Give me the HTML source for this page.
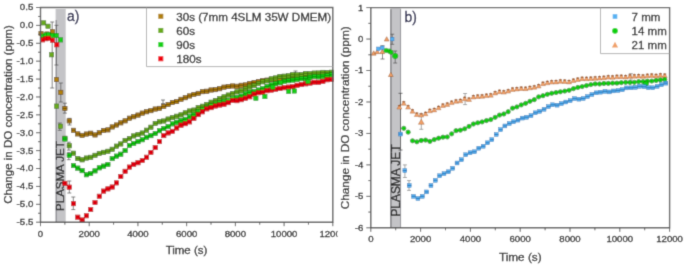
<!DOCTYPE html>
<html><head><meta charset="utf-8"><style>
html,body{margin:0;padding:0;background:#fff;}
body{width:685px;height:265px;overflow:hidden;}
svg{display:block;}
</style></head><body>
<svg width="685" height="265" viewBox="0 0 685 265">
<defs><filter id="bl" x="0" y="0" width="1" height="1"><feConvolveMatrix order="3" kernelMatrix="0.019 0.1 0.019 0.1 0.524 0.1 0.019 0.1 0.019" divisor="1" edgeMode="duplicate" preserveAlpha="true"/></filter></defs>
<g filter="url(#bl)">
<rect width="685" height="265" fill="#fff"/>
<g>
<rect x="55.6" y="9.0" width="10.1" height="213.2" fill="#c4c4c7"/>
<path d="M56.2 20 V222.2" stroke="#85858a" stroke-width="1.1"/>
<text transform="translate(64.1,210.9) rotate(-90)" font-family="Liberation Sans, sans-serif" stroke="#222" stroke-width="0.3" font-size="11.5" fill="#222">PLASMA JET</text>
<path d="M52.20 22.00 V88.00 M50.20 22.00 H54.20 M50.20 88.00 H54.20" stroke="#555555" stroke-width="0.75" fill="none"/>
<path d="M56.40 25.30 V65.00 M54.40 25.30 H58.40 M54.40 65.00 H58.40" stroke="#555555" stroke-width="0.75" fill="none"/>
<path d="M60.80 83.00 V102.00 M58.80 83.00 H62.80 M58.80 102.00 H62.80" stroke="#555555" stroke-width="0.75" fill="none"/>
<path d="M64.90 103.20 V113.10 M62.90 103.20 H66.90 M62.90 113.10 H66.90" stroke="#555555" stroke-width="0.75" fill="none"/>
<path d="M69.50 118.30 V125.00 M67.50 118.30 H71.50 M67.50 125.00 H71.50" stroke="#555555" stroke-width="0.75" fill="none"/>
<path d="M73.30 197.00 V209.60 M71.30 197.00 H75.30 M71.30 209.60 H75.30" stroke="#555555" stroke-width="0.75" fill="none"/>
<path d="M69.30 181.00 V193.00 M67.30 181.00 H71.30 M67.30 193.00 H71.30" stroke="#555555" stroke-width="0.75" fill="none"/>
<path d="M59.80 123.00 V130.30 M57.80 123.00 H61.80 M57.80 130.30 H61.80" stroke="#555555" stroke-width="0.75" fill="none"/>
<path d="M163.00 100.00 V103.50 M161.00 100.00 H165.00 M161.00 103.50 H165.00" stroke="#555555" stroke-width="0.75" fill="none"/>
<path d="M295.50 71.00 V76.00 M293.50 71.00 H297.50 M293.50 76.00 H297.50" stroke="#555555" stroke-width="0.75" fill="none"/>
<path d="M68.80 142.20 V150.10 M66.80 142.20 H70.80 M66.80 150.10 H70.80" stroke="#555555" stroke-width="0.75" fill="none"/>
<path d="M68.80 152.40 V159.70 M66.80 152.40 H70.80 M66.80 159.70 H70.80" stroke="#555555" stroke-width="0.75" fill="none"/>
<rect x="38.85" y="31.35" width="4.3" height="4.3" fill="#b0800e" stroke="#5a3c04" stroke-width="0.5"/><rect x="44.85" y="31.85" width="4.3" height="4.3" fill="#b0800e" stroke="#5a3c04" stroke-width="0.5"/><rect x="50.25" y="29.45" width="4.3" height="4.3" fill="#b0800e" stroke="#5a3c04" stroke-width="0.5"/><rect x="54.35" y="77.45" width="4.3" height="4.3" fill="#b0800e" stroke="#5a3c04" stroke-width="0.5"/><rect x="58.65" y="90.15" width="4.3" height="4.3" fill="#b0800e" stroke="#5a3c04" stroke-width="0.5"/><rect x="62.75" y="106.29" width="4.3" height="4.3" fill="#b0800e" stroke="#5a3c04" stroke-width="0.6"/><path d="M62.60 108.44 H67.20" stroke="#5a3c04" stroke-width="0.7"/><rect x="67.05" y="118.75" width="4.3" height="4.3" fill="#b0800e" stroke="#5a3c04" stroke-width="0.6"/><path d="M66.90 120.90 H71.50" stroke="#5a3c04" stroke-width="0.7"/><rect x="71.35" y="128.15" width="4.3" height="4.3" fill="#b0800e" stroke="#5a3c04" stroke-width="0.6"/><path d="M71.20 130.30 H75.80" stroke="#5a3c04" stroke-width="0.7"/><rect x="75.65" y="131.76" width="4.3" height="4.3" fill="#b0800e" stroke="#5a3c04" stroke-width="0.6"/><path d="M75.50 133.91 H80.10" stroke="#5a3c04" stroke-width="0.7"/><rect x="79.95" y="133.24" width="4.3" height="4.3" fill="#b0800e" stroke="#5a3c04" stroke-width="0.6"/><path d="M79.80 135.39 H84.40" stroke="#5a3c04" stroke-width="0.7"/><rect x="84.25" y="131.90" width="4.3" height="4.3" fill="#b0800e" stroke="#5a3c04" stroke-width="0.6"/><path d="M84.10 134.05 H88.70" stroke="#5a3c04" stroke-width="0.7"/><rect x="88.55" y="131.06" width="4.3" height="4.3" fill="#b0800e" stroke="#5a3c04" stroke-width="0.6"/><path d="M88.40 133.21 H93.00" stroke="#5a3c04" stroke-width="0.7"/><rect x="92.85" y="132.79" width="4.3" height="4.3" fill="#b0800e" stroke="#5a3c04" stroke-width="0.6"/><path d="M92.70 134.94 H97.30" stroke="#5a3c04" stroke-width="0.7"/><rect x="97.15" y="130.60" width="4.3" height="4.3" fill="#b0800e" stroke="#5a3c04" stroke-width="0.6"/><path d="M97.00 132.75 H101.60" stroke="#5a3c04" stroke-width="0.7"/><rect x="101.45" y="128.29" width="4.3" height="4.3" fill="#b0800e" stroke="#5a3c04" stroke-width="0.6"/><path d="M101.30 130.44 H105.90" stroke="#5a3c04" stroke-width="0.7"/><rect x="105.75" y="127.73" width="4.3" height="4.3" fill="#b0800e" stroke="#5a3c04" stroke-width="0.6"/><path d="M105.60 129.88 H110.20" stroke="#5a3c04" stroke-width="0.7"/><rect x="110.05" y="124.81" width="4.3" height="4.3" fill="#b0800e" stroke="#5a3c04" stroke-width="0.6"/><path d="M109.90 126.96 H114.50" stroke="#5a3c04" stroke-width="0.7"/><rect x="114.35" y="122.86" width="4.3" height="4.3" fill="#b0800e" stroke="#5a3c04" stroke-width="0.6"/><path d="M114.20 125.01 H118.80" stroke="#5a3c04" stroke-width="0.7"/><rect x="118.65" y="120.72" width="4.3" height="4.3" fill="#b0800e" stroke="#5a3c04" stroke-width="0.6"/><path d="M118.50 122.87 H123.10" stroke="#5a3c04" stroke-width="0.7"/><rect x="122.95" y="118.71" width="4.3" height="4.3" fill="#b0800e" stroke="#5a3c04" stroke-width="0.6"/><path d="M122.80 120.86 H127.40" stroke="#5a3c04" stroke-width="0.7"/><rect x="127.25" y="116.03" width="4.3" height="4.3" fill="#b0800e" stroke="#5a3c04" stroke-width="0.6"/><path d="M127.10 118.18 H131.70" stroke="#5a3c04" stroke-width="0.7"/><rect x="131.55" y="114.59" width="4.3" height="4.3" fill="#b0800e" stroke="#5a3c04" stroke-width="0.6"/><path d="M131.40 116.74 H136.00" stroke="#5a3c04" stroke-width="0.7"/><rect x="135.85" y="112.93" width="4.3" height="4.3" fill="#b0800e" stroke="#5a3c04" stroke-width="0.6"/><path d="M135.70 115.08 H140.30" stroke="#5a3c04" stroke-width="0.7"/><rect x="140.15" y="110.97" width="4.3" height="4.3" fill="#b0800e" stroke="#5a3c04" stroke-width="0.6"/><path d="M140.00 113.12 H144.60" stroke="#5a3c04" stroke-width="0.7"/><rect x="144.45" y="109.62" width="4.3" height="4.3" fill="#b0800e" stroke="#5a3c04" stroke-width="0.6"/><path d="M144.30 111.77 H148.90" stroke="#5a3c04" stroke-width="0.7"/><rect x="148.75" y="108.52" width="4.3" height="4.3" fill="#b0800e" stroke="#5a3c04" stroke-width="0.6"/><path d="M148.60 110.67 H153.20" stroke="#5a3c04" stroke-width="0.7"/><rect x="153.05" y="106.89" width="4.3" height="4.3" fill="#b0800e" stroke="#5a3c04" stroke-width="0.6"/><path d="M152.90 109.04 H157.50" stroke="#5a3c04" stroke-width="0.7"/><rect x="157.35" y="106.21" width="4.3" height="4.3" fill="#b0800e" stroke="#5a3c04" stroke-width="0.6"/><path d="M157.20 108.36 H161.80" stroke="#5a3c04" stroke-width="0.7"/><rect x="161.65" y="104.36" width="4.3" height="4.3" fill="#b0800e" stroke="#5a3c04" stroke-width="0.6"/><path d="M161.50 106.51 H166.10" stroke="#5a3c04" stroke-width="0.7"/><rect x="165.95" y="102.39" width="4.3" height="4.3" fill="#b0800e" stroke="#5a3c04" stroke-width="0.6"/><path d="M165.80 104.54 H170.40" stroke="#5a3c04" stroke-width="0.7"/><rect x="170.25" y="100.37" width="4.3" height="4.3" fill="#b0800e" stroke="#5a3c04" stroke-width="0.6"/><path d="M170.10 102.52 H174.70" stroke="#5a3c04" stroke-width="0.7"/><rect x="174.55" y="99.38" width="4.3" height="4.3" fill="#b0800e" stroke="#5a3c04" stroke-width="0.6"/><path d="M174.40 101.53 H179.00" stroke="#5a3c04" stroke-width="0.7"/><rect x="178.85" y="97.17" width="4.3" height="4.3" fill="#b0800e" stroke="#5a3c04" stroke-width="0.6"/><path d="M178.70 99.32 H183.30" stroke="#5a3c04" stroke-width="0.7"/><rect x="183.15" y="95.55" width="4.3" height="4.3" fill="#b0800e" stroke="#5a3c04" stroke-width="0.6"/><path d="M183.00 97.70 H187.60" stroke="#5a3c04" stroke-width="0.7"/><rect x="187.45" y="93.81" width="4.3" height="4.3" fill="#b0800e" stroke="#5a3c04" stroke-width="0.6"/><path d="M187.30 95.96 H191.90" stroke="#5a3c04" stroke-width="0.7"/><rect x="191.75" y="92.29" width="4.3" height="4.3" fill="#b0800e" stroke="#5a3c04" stroke-width="0.6"/><path d="M191.60 94.44 H196.20" stroke="#5a3c04" stroke-width="0.7"/><rect x="196.05" y="91.21" width="4.3" height="4.3" fill="#b0800e" stroke="#5a3c04" stroke-width="0.6"/><path d="M195.90 93.36 H200.50" stroke="#5a3c04" stroke-width="0.7"/><rect x="200.35" y="89.54" width="4.3" height="4.3" fill="#b0800e" stroke="#5a3c04" stroke-width="0.6"/><path d="M200.20 91.69 H204.80" stroke="#5a3c04" stroke-width="0.7"/><rect x="204.65" y="89.08" width="4.3" height="4.3" fill="#b0800e" stroke="#5a3c04" stroke-width="0.6"/><path d="M204.50 91.23 H209.10" stroke="#5a3c04" stroke-width="0.7"/><rect x="208.95" y="87.86" width="4.3" height="4.3" fill="#b0800e" stroke="#5a3c04" stroke-width="0.6"/><path d="M208.80 90.01 H213.40" stroke="#5a3c04" stroke-width="0.7"/><rect x="213.25" y="87.49" width="4.3" height="4.3" fill="#b0800e" stroke="#5a3c04" stroke-width="0.6"/><path d="M213.10 89.64 H217.70" stroke="#5a3c04" stroke-width="0.7"/><rect x="217.55" y="86.57" width="4.3" height="4.3" fill="#b0800e" stroke="#5a3c04" stroke-width="0.6"/><path d="M217.40 88.72 H222.00" stroke="#5a3c04" stroke-width="0.7"/><rect x="221.85" y="84.99" width="4.3" height="4.3" fill="#b0800e" stroke="#5a3c04" stroke-width="0.6"/><path d="M221.70 87.14 H226.30" stroke="#5a3c04" stroke-width="0.7"/><rect x="226.15" y="84.39" width="4.3" height="4.3" fill="#b0800e" stroke="#5a3c04" stroke-width="0.6"/><path d="M226.00 86.54 H230.60" stroke="#5a3c04" stroke-width="0.7"/><rect x="230.45" y="83.84" width="4.3" height="4.3" fill="#b0800e" stroke="#5a3c04" stroke-width="0.6"/><path d="M230.30 85.99 H234.90" stroke="#5a3c04" stroke-width="0.7"/><rect x="234.75" y="84.11" width="4.3" height="4.3" fill="#b0800e" stroke="#5a3c04" stroke-width="0.6"/><path d="M234.60 86.26 H239.20" stroke="#5a3c04" stroke-width="0.7"/><rect x="239.05" y="83.15" width="4.3" height="4.3" fill="#b0800e" stroke="#5a3c04" stroke-width="0.6"/><path d="M238.90 85.30 H243.50" stroke="#5a3c04" stroke-width="0.7"/><rect x="243.35" y="82.78" width="4.3" height="4.3" fill="#b0800e" stroke="#5a3c04" stroke-width="0.6"/><path d="M243.20 84.93 H247.80" stroke="#5a3c04" stroke-width="0.7"/><rect x="247.65" y="81.28" width="4.3" height="4.3" fill="#b0800e" stroke="#5a3c04" stroke-width="0.6"/><path d="M247.50 83.43 H252.10" stroke="#5a3c04" stroke-width="0.7"/><rect x="251.95" y="80.30" width="4.3" height="4.3" fill="#b0800e" stroke="#5a3c04" stroke-width="0.6"/><path d="M251.80 82.45 H256.40" stroke="#5a3c04" stroke-width="0.7"/><rect x="256.25" y="79.32" width="4.3" height="4.3" fill="#b0800e" stroke="#5a3c04" stroke-width="0.6"/><path d="M256.10 81.47 H260.70" stroke="#5a3c04" stroke-width="0.7"/><rect x="260.55" y="78.51" width="4.3" height="4.3" fill="#b0800e" stroke="#5a3c04" stroke-width="0.6"/><path d="M260.40 80.66 H265.00" stroke="#5a3c04" stroke-width="0.7"/><rect x="264.85" y="77.98" width="4.3" height="4.3" fill="#b0800e" stroke="#5a3c04" stroke-width="0.6"/><path d="M264.70 80.13 H269.30" stroke="#5a3c04" stroke-width="0.7"/><rect x="269.15" y="77.26" width="4.3" height="4.3" fill="#b0800e" stroke="#5a3c04" stroke-width="0.6"/><path d="M269.00 79.41 H273.60" stroke="#5a3c04" stroke-width="0.7"/><rect x="273.45" y="77.02" width="4.3" height="4.3" fill="#b0800e" stroke="#5a3c04" stroke-width="0.6"/><path d="M273.30 79.17 H277.90" stroke="#5a3c04" stroke-width="0.7"/><rect x="277.75" y="76.24" width="4.3" height="4.3" fill="#b0800e" stroke="#5a3c04" stroke-width="0.6"/><path d="M277.60 78.39 H282.20" stroke="#5a3c04" stroke-width="0.7"/><rect x="282.05" y="75.99" width="4.3" height="4.3" fill="#b0800e" stroke="#5a3c04" stroke-width="0.6"/><path d="M281.90 78.14 H286.50" stroke="#5a3c04" stroke-width="0.7"/><rect x="286.35" y="75.45" width="4.3" height="4.3" fill="#b0800e" stroke="#5a3c04" stroke-width="0.6"/><path d="M286.20 77.60 H290.80" stroke="#5a3c04" stroke-width="0.7"/><rect x="290.65" y="75.12" width="4.3" height="4.3" fill="#b0800e" stroke="#5a3c04" stroke-width="0.6"/><path d="M290.50 77.27 H295.10" stroke="#5a3c04" stroke-width="0.7"/><rect x="294.95" y="74.33" width="4.3" height="4.3" fill="#b0800e" stroke="#5a3c04" stroke-width="0.6"/><path d="M294.80 76.48 H299.40" stroke="#5a3c04" stroke-width="0.7"/><rect x="299.25" y="73.40" width="4.3" height="4.3" fill="#b0800e" stroke="#5a3c04" stroke-width="0.6"/><path d="M299.10 75.55 H303.70" stroke="#5a3c04" stroke-width="0.7"/><rect x="303.55" y="73.75" width="4.3" height="4.3" fill="#b0800e" stroke="#5a3c04" stroke-width="0.6"/><path d="M303.40 75.90 H308.00" stroke="#5a3c04" stroke-width="0.7"/><rect x="307.85" y="73.51" width="4.3" height="4.3" fill="#b0800e" stroke="#5a3c04" stroke-width="0.6"/><path d="M307.70 75.66 H312.30" stroke="#5a3c04" stroke-width="0.7"/><rect x="312.15" y="73.10" width="4.3" height="4.3" fill="#b0800e" stroke="#5a3c04" stroke-width="0.6"/><path d="M312.00 75.25 H316.60" stroke="#5a3c04" stroke-width="0.7"/><rect x="316.45" y="72.42" width="4.3" height="4.3" fill="#b0800e" stroke="#5a3c04" stroke-width="0.6"/><path d="M316.30 74.57 H320.90" stroke="#5a3c04" stroke-width="0.7"/><rect x="320.75" y="72.22" width="4.3" height="4.3" fill="#b0800e" stroke="#5a3c04" stroke-width="0.6"/><path d="M320.60 74.37 H325.20" stroke="#5a3c04" stroke-width="0.7"/><rect x="325.05" y="71.37" width="4.3" height="4.3" fill="#b0800e" stroke="#5a3c04" stroke-width="0.6"/><path d="M324.90 73.52 H329.50" stroke="#5a3c04" stroke-width="0.7"/><rect x="329.35" y="71.68" width="4.3" height="4.3" fill="#b0800e" stroke="#5a3c04" stroke-width="0.6"/><path d="M329.20 73.83 H333.80" stroke="#5a3c04" stroke-width="0.7"/>
<rect x="41.55" y="20.75" width="4.3" height="4.3" fill="#6aaa1e" stroke="#3a6a10" stroke-width="0.5"/><rect x="45.85" y="24.05" width="4.3" height="4.3" fill="#6aaa1e" stroke="#3a6a10" stroke-width="0.5"/><rect x="49.45" y="52.65" width="4.3" height="4.3" fill="#6aaa1e" stroke="#3a6a10" stroke-width="0.5"/><rect x="54.45" y="103.95" width="4.3" height="4.3" fill="#6aaa1e" stroke="#3a6a10" stroke-width="0.5"/><rect x="58.25" y="124.05" width="4.3" height="4.3" fill="#6aaa1e" stroke="#3a6a10" stroke-width="0.5"/><rect x="62.75" y="136.12" width="4.3" height="4.3" fill="#6aaa1e" stroke="#3a6a10" stroke-width="0.6"/><path d="M62.60 138.27 H67.20" stroke="#3a6a10" stroke-width="0.7"/><rect x="67.05" y="143.63" width="4.3" height="4.3" fill="#6aaa1e" stroke="#3a6a10" stroke-width="0.6"/><path d="M66.90 145.78 H71.50" stroke="#3a6a10" stroke-width="0.7"/><rect x="71.35" y="151.06" width="4.3" height="4.3" fill="#6aaa1e" stroke="#3a6a10" stroke-width="0.6"/><path d="M71.20 153.21 H75.80" stroke="#3a6a10" stroke-width="0.7"/><rect x="75.65" y="156.39" width="4.3" height="4.3" fill="#6aaa1e" stroke="#3a6a10" stroke-width="0.6"/><path d="M75.50 158.54 H80.10" stroke="#3a6a10" stroke-width="0.7"/><rect x="79.95" y="157.70" width="4.3" height="4.3" fill="#6aaa1e" stroke="#3a6a10" stroke-width="0.6"/><path d="M79.80 159.85 H84.40" stroke="#3a6a10" stroke-width="0.7"/><rect x="84.25" y="155.90" width="4.3" height="4.3" fill="#6aaa1e" stroke="#3a6a10" stroke-width="0.6"/><path d="M84.10 158.05 H88.70" stroke="#3a6a10" stroke-width="0.7"/><rect x="88.55" y="155.15" width="4.3" height="4.3" fill="#6aaa1e" stroke="#3a6a10" stroke-width="0.6"/><path d="M88.40 157.30 H93.00" stroke="#3a6a10" stroke-width="0.7"/><rect x="92.85" y="153.16" width="4.3" height="4.3" fill="#6aaa1e" stroke="#3a6a10" stroke-width="0.6"/><path d="M92.70 155.31 H97.30" stroke="#3a6a10" stroke-width="0.7"/><rect x="97.15" y="151.25" width="4.3" height="4.3" fill="#6aaa1e" stroke="#3a6a10" stroke-width="0.6"/><path d="M97.00 153.40 H101.60" stroke="#3a6a10" stroke-width="0.7"/><rect x="101.45" y="150.20" width="4.3" height="4.3" fill="#6aaa1e" stroke="#3a6a10" stroke-width="0.6"/><path d="M101.30 152.35 H105.90" stroke="#3a6a10" stroke-width="0.7"/><rect x="105.75" y="149.13" width="4.3" height="4.3" fill="#6aaa1e" stroke="#3a6a10" stroke-width="0.6"/><path d="M105.60 151.28 H110.20" stroke="#3a6a10" stroke-width="0.7"/><rect x="110.05" y="147.09" width="4.3" height="4.3" fill="#6aaa1e" stroke="#3a6a10" stroke-width="0.6"/><path d="M109.90 149.24 H114.50" stroke="#3a6a10" stroke-width="0.7"/><rect x="114.35" y="143.98" width="4.3" height="4.3" fill="#6aaa1e" stroke="#3a6a10" stroke-width="0.6"/><path d="M114.20 146.13 H118.80" stroke="#3a6a10" stroke-width="0.7"/><rect x="118.65" y="141.82" width="4.3" height="4.3" fill="#6aaa1e" stroke="#3a6a10" stroke-width="0.6"/><path d="M118.50 143.97 H123.10" stroke="#3a6a10" stroke-width="0.7"/><rect x="122.95" y="138.27" width="4.3" height="4.3" fill="#6aaa1e" stroke="#3a6a10" stroke-width="0.6"/><path d="M122.80 140.42 H127.40" stroke="#3a6a10" stroke-width="0.7"/><rect x="127.25" y="136.37" width="4.3" height="4.3" fill="#6aaa1e" stroke="#3a6a10" stroke-width="0.6"/><path d="M127.10 138.52 H131.70" stroke="#3a6a10" stroke-width="0.7"/><rect x="131.55" y="133.80" width="4.3" height="4.3" fill="#6aaa1e" stroke="#3a6a10" stroke-width="0.6"/><path d="M131.40 135.95 H136.00" stroke="#3a6a10" stroke-width="0.7"/><rect x="135.85" y="132.43" width="4.3" height="4.3" fill="#6aaa1e" stroke="#3a6a10" stroke-width="0.6"/><path d="M135.70 134.58 H140.30" stroke="#3a6a10" stroke-width="0.7"/><rect x="140.15" y="130.87" width="4.3" height="4.3" fill="#6aaa1e" stroke="#3a6a10" stroke-width="0.6"/><path d="M140.00 133.02 H144.60" stroke="#3a6a10" stroke-width="0.7"/><rect x="144.45" y="128.04" width="4.3" height="4.3" fill="#6aaa1e" stroke="#3a6a10" stroke-width="0.6"/><path d="M144.30 130.19 H148.90" stroke="#3a6a10" stroke-width="0.7"/><rect x="148.75" y="125.06" width="4.3" height="4.3" fill="#6aaa1e" stroke="#3a6a10" stroke-width="0.6"/><path d="M148.60 127.21 H153.20" stroke="#3a6a10" stroke-width="0.7"/><rect x="153.05" y="121.27" width="4.3" height="4.3" fill="#6aaa1e" stroke="#3a6a10" stroke-width="0.6"/><path d="M152.90 123.42 H157.50" stroke="#3a6a10" stroke-width="0.7"/><rect x="157.35" y="119.66" width="4.3" height="4.3" fill="#6aaa1e" stroke="#3a6a10" stroke-width="0.6"/><path d="M157.20 121.81 H161.80" stroke="#3a6a10" stroke-width="0.7"/><rect x="161.65" y="118.86" width="4.3" height="4.3" fill="#6aaa1e" stroke="#3a6a10" stroke-width="0.6"/><path d="M161.50 121.01 H166.10" stroke="#3a6a10" stroke-width="0.7"/><rect x="165.95" y="116.91" width="4.3" height="4.3" fill="#6aaa1e" stroke="#3a6a10" stroke-width="0.6"/><path d="M165.80 119.06 H170.40" stroke="#3a6a10" stroke-width="0.7"/><rect x="170.25" y="115.46" width="4.3" height="4.3" fill="#6aaa1e" stroke="#3a6a10" stroke-width="0.6"/><path d="M170.10 117.61 H174.70" stroke="#3a6a10" stroke-width="0.7"/><rect x="174.55" y="114.07" width="4.3" height="4.3" fill="#6aaa1e" stroke="#3a6a10" stroke-width="0.6"/><path d="M174.40 116.22 H179.00" stroke="#3a6a10" stroke-width="0.7"/><rect x="178.85" y="112.74" width="4.3" height="4.3" fill="#6aaa1e" stroke="#3a6a10" stroke-width="0.6"/><path d="M178.70 114.89 H183.30" stroke="#3a6a10" stroke-width="0.7"/><rect x="183.15" y="110.72" width="4.3" height="4.3" fill="#6aaa1e" stroke="#3a6a10" stroke-width="0.6"/><path d="M183.00 112.87 H187.60" stroke="#3a6a10" stroke-width="0.7"/><rect x="187.45" y="108.85" width="4.3" height="4.3" fill="#6aaa1e" stroke="#3a6a10" stroke-width="0.6"/><path d="M187.30 111.00 H191.90" stroke="#3a6a10" stroke-width="0.7"/><rect x="191.75" y="107.92" width="4.3" height="4.3" fill="#6aaa1e" stroke="#3a6a10" stroke-width="0.6"/><path d="M191.60 110.07 H196.20" stroke="#3a6a10" stroke-width="0.7"/><rect x="196.05" y="105.42" width="4.3" height="4.3" fill="#6aaa1e" stroke="#3a6a10" stroke-width="0.6"/><path d="M195.90 107.57 H200.50" stroke="#3a6a10" stroke-width="0.7"/><rect x="200.35" y="104.08" width="4.3" height="4.3" fill="#6aaa1e" stroke="#3a6a10" stroke-width="0.6"/><path d="M200.20 106.23 H204.80" stroke="#3a6a10" stroke-width="0.7"/><rect x="204.65" y="102.28" width="4.3" height="4.3" fill="#6aaa1e" stroke="#3a6a10" stroke-width="0.6"/><path d="M204.50 104.43 H209.10" stroke="#3a6a10" stroke-width="0.7"/><rect x="208.95" y="100.05" width="4.3" height="4.3" fill="#6aaa1e" stroke="#3a6a10" stroke-width="0.6"/><path d="M208.80 102.20 H213.40" stroke="#3a6a10" stroke-width="0.7"/><rect x="213.25" y="98.28" width="4.3" height="4.3" fill="#6aaa1e" stroke="#3a6a10" stroke-width="0.6"/><path d="M213.10 100.43 H217.70" stroke="#3a6a10" stroke-width="0.7"/><rect x="217.55" y="96.47" width="4.3" height="4.3" fill="#6aaa1e" stroke="#3a6a10" stroke-width="0.6"/><path d="M217.40 98.62 H222.00" stroke="#3a6a10" stroke-width="0.7"/><rect x="221.85" y="94.72" width="4.3" height="4.3" fill="#6aaa1e" stroke="#3a6a10" stroke-width="0.6"/><path d="M221.70 96.87 H226.30" stroke="#3a6a10" stroke-width="0.7"/><rect x="226.15" y="92.90" width="4.3" height="4.3" fill="#6aaa1e" stroke="#3a6a10" stroke-width="0.6"/><path d="M226.00 95.05 H230.60" stroke="#3a6a10" stroke-width="0.7"/><rect x="230.45" y="91.28" width="4.3" height="4.3" fill="#6aaa1e" stroke="#3a6a10" stroke-width="0.6"/><path d="M230.30 93.43 H234.90" stroke="#3a6a10" stroke-width="0.7"/><rect x="234.75" y="89.76" width="4.3" height="4.3" fill="#6aaa1e" stroke="#3a6a10" stroke-width="0.6"/><path d="M234.60 91.91 H239.20" stroke="#3a6a10" stroke-width="0.7"/><rect x="239.05" y="88.55" width="4.3" height="4.3" fill="#6aaa1e" stroke="#3a6a10" stroke-width="0.6"/><path d="M238.90 90.70 H243.50" stroke="#3a6a10" stroke-width="0.7"/><rect x="243.35" y="86.59" width="4.3" height="4.3" fill="#6aaa1e" stroke="#3a6a10" stroke-width="0.6"/><path d="M243.20 88.74 H247.80" stroke="#3a6a10" stroke-width="0.7"/><rect x="247.65" y="84.94" width="4.3" height="4.3" fill="#6aaa1e" stroke="#3a6a10" stroke-width="0.6"/><path d="M247.50 87.09 H252.10" stroke="#3a6a10" stroke-width="0.7"/><rect x="251.95" y="83.49" width="4.3" height="4.3" fill="#6aaa1e" stroke="#3a6a10" stroke-width="0.6"/><path d="M251.80 85.64 H256.40" stroke="#3a6a10" stroke-width="0.7"/><rect x="256.25" y="81.27" width="4.3" height="4.3" fill="#6aaa1e" stroke="#3a6a10" stroke-width="0.6"/><path d="M256.10 83.42 H260.70" stroke="#3a6a10" stroke-width="0.7"/><rect x="260.55" y="79.67" width="4.3" height="4.3" fill="#6aaa1e" stroke="#3a6a10" stroke-width="0.6"/><path d="M260.40 81.82 H265.00" stroke="#3a6a10" stroke-width="0.7"/><rect x="264.85" y="78.70" width="4.3" height="4.3" fill="#6aaa1e" stroke="#3a6a10" stroke-width="0.6"/><path d="M264.70 80.85 H269.30" stroke="#3a6a10" stroke-width="0.7"/><rect x="269.15" y="76.72" width="4.3" height="4.3" fill="#6aaa1e" stroke="#3a6a10" stroke-width="0.6"/><path d="M269.00 78.87 H273.60" stroke="#3a6a10" stroke-width="0.7"/><rect x="273.45" y="75.80" width="4.3" height="4.3" fill="#6aaa1e" stroke="#3a6a10" stroke-width="0.6"/><path d="M273.30 77.95 H277.90" stroke="#3a6a10" stroke-width="0.7"/><rect x="277.75" y="74.31" width="4.3" height="4.3" fill="#6aaa1e" stroke="#3a6a10" stroke-width="0.6"/><path d="M277.60 76.46 H282.20" stroke="#3a6a10" stroke-width="0.7"/><rect x="282.05" y="74.02" width="4.3" height="4.3" fill="#6aaa1e" stroke="#3a6a10" stroke-width="0.6"/><path d="M281.90 76.17 H286.50" stroke="#3a6a10" stroke-width="0.7"/><rect x="286.35" y="73.64" width="4.3" height="4.3" fill="#6aaa1e" stroke="#3a6a10" stroke-width="0.6"/><path d="M286.20 75.79 H290.80" stroke="#3a6a10" stroke-width="0.7"/><rect x="290.65" y="72.54" width="4.3" height="4.3" fill="#6aaa1e" stroke="#3a6a10" stroke-width="0.6"/><path d="M290.50 74.69 H295.10" stroke="#3a6a10" stroke-width="0.7"/><rect x="294.95" y="72.72" width="4.3" height="4.3" fill="#6aaa1e" stroke="#3a6a10" stroke-width="0.6"/><path d="M294.80 74.87 H299.40" stroke="#3a6a10" stroke-width="0.7"/><rect x="299.25" y="72.33" width="4.3" height="4.3" fill="#6aaa1e" stroke="#3a6a10" stroke-width="0.6"/><path d="M299.10 74.48 H303.70" stroke="#3a6a10" stroke-width="0.7"/><rect x="303.55" y="71.34" width="4.3" height="4.3" fill="#6aaa1e" stroke="#3a6a10" stroke-width="0.6"/><path d="M303.40 73.49 H308.00" stroke="#3a6a10" stroke-width="0.7"/><rect x="307.85" y="71.50" width="4.3" height="4.3" fill="#6aaa1e" stroke="#3a6a10" stroke-width="0.6"/><path d="M307.70 73.65 H312.30" stroke="#3a6a10" stroke-width="0.7"/><rect x="312.15" y="70.93" width="4.3" height="4.3" fill="#6aaa1e" stroke="#3a6a10" stroke-width="0.6"/><path d="M312.00 73.08 H316.60" stroke="#3a6a10" stroke-width="0.7"/><rect x="316.45" y="70.85" width="4.3" height="4.3" fill="#6aaa1e" stroke="#3a6a10" stroke-width="0.6"/><path d="M316.30 73.00 H320.90" stroke="#3a6a10" stroke-width="0.7"/><rect x="320.75" y="70.24" width="4.3" height="4.3" fill="#6aaa1e" stroke="#3a6a10" stroke-width="0.6"/><path d="M320.60 72.39 H325.20" stroke="#3a6a10" stroke-width="0.7"/><rect x="325.05" y="70.31" width="4.3" height="4.3" fill="#6aaa1e" stroke="#3a6a10" stroke-width="0.6"/><path d="M324.90 72.46 H329.50" stroke="#3a6a10" stroke-width="0.7"/><rect x="329.35" y="70.09" width="4.3" height="4.3" fill="#6aaa1e" stroke="#3a6a10" stroke-width="0.6"/><path d="M329.20 72.24 H333.80" stroke="#3a6a10" stroke-width="0.7"/>
<rect x="40.45" y="34.05" width="4.3" height="4.3" fill="#12d012" stroke="#0a800a" stroke-width="0.5"/><rect x="43.85" y="32.85" width="4.3" height="4.3" fill="#12d012" stroke="#0a800a" stroke-width="0.5"/><rect x="46.35" y="32.25" width="4.3" height="4.3" fill="#12d012" stroke="#0a800a" stroke-width="0.5"/><rect x="50.25" y="33.15" width="4.3" height="4.3" fill="#12d012" stroke="#0a800a" stroke-width="0.5"/><rect x="54.05" y="33.35" width="4.3" height="4.3" fill="#12d012" stroke="#0a800a" stroke-width="0.5"/><rect x="58.45" y="37.75" width="4.3" height="4.3" fill="#12d012" stroke="#0a800a" stroke-width="0.5"/><rect x="62.75" y="136.85" width="4.3" height="4.3" fill="#12d012" stroke="#0a800a" stroke-width="0.6"/><path d="M62.60 139.00 H67.20" stroke="#0a800a" stroke-width="0.7"/><rect x="67.05" y="153.27" width="4.3" height="4.3" fill="#12d012" stroke="#0a800a" stroke-width="0.6"/><path d="M66.90 155.42 H71.50" stroke="#0a800a" stroke-width="0.7"/><rect x="71.35" y="163.43" width="4.3" height="4.3" fill="#12d012" stroke="#0a800a" stroke-width="0.6"/><path d="M71.20 165.58 H75.80" stroke="#0a800a" stroke-width="0.7"/><rect x="75.65" y="165.94" width="4.3" height="4.3" fill="#12d012" stroke="#0a800a" stroke-width="0.6"/><path d="M75.50 168.09 H80.10" stroke="#0a800a" stroke-width="0.7"/><rect x="79.95" y="168.53" width="4.3" height="4.3" fill="#12d012" stroke="#0a800a" stroke-width="0.6"/><path d="M79.80 170.68 H84.40" stroke="#0a800a" stroke-width="0.7"/><rect x="84.25" y="172.63" width="4.3" height="4.3" fill="#12d012" stroke="#0a800a" stroke-width="0.6"/><path d="M84.10 174.78 H88.70" stroke="#0a800a" stroke-width="0.7"/><rect x="88.55" y="171.39" width="4.3" height="4.3" fill="#12d012" stroke="#0a800a" stroke-width="0.6"/><path d="M88.40 173.54 H93.00" stroke="#0a800a" stroke-width="0.7"/><rect x="92.85" y="168.75" width="4.3" height="4.3" fill="#12d012" stroke="#0a800a" stroke-width="0.6"/><path d="M92.70 170.90 H97.30" stroke="#0a800a" stroke-width="0.7"/><rect x="97.15" y="165.71" width="4.3" height="4.3" fill="#12d012" stroke="#0a800a" stroke-width="0.6"/><path d="M97.00 167.86 H101.60" stroke="#0a800a" stroke-width="0.7"/><rect x="101.45" y="163.96" width="4.3" height="4.3" fill="#12d012" stroke="#0a800a" stroke-width="0.6"/><path d="M101.30 166.11 H105.90" stroke="#0a800a" stroke-width="0.7"/><rect x="105.75" y="162.32" width="4.3" height="4.3" fill="#12d012" stroke="#0a800a" stroke-width="0.6"/><path d="M105.60 164.47 H110.20" stroke="#0a800a" stroke-width="0.7"/><rect x="110.05" y="156.45" width="4.3" height="4.3" fill="#12d012" stroke="#0a800a" stroke-width="0.6"/><path d="M109.90 158.60 H114.50" stroke="#0a800a" stroke-width="0.7"/><rect x="114.35" y="153.95" width="4.3" height="4.3" fill="#12d012" stroke="#0a800a" stroke-width="0.6"/><path d="M114.20 156.10 H118.80" stroke="#0a800a" stroke-width="0.7"/><rect x="118.65" y="152.03" width="4.3" height="4.3" fill="#12d012" stroke="#0a800a" stroke-width="0.6"/><path d="M118.50 154.18 H123.10" stroke="#0a800a" stroke-width="0.7"/><rect x="122.95" y="148.42" width="4.3" height="4.3" fill="#12d012" stroke="#0a800a" stroke-width="0.6"/><path d="M122.80 150.57 H127.40" stroke="#0a800a" stroke-width="0.7"/><rect x="127.25" y="143.30" width="4.3" height="4.3" fill="#12d012" stroke="#0a800a" stroke-width="0.6"/><path d="M127.10 145.45 H131.70" stroke="#0a800a" stroke-width="0.7"/><rect x="131.55" y="141.30" width="4.3" height="4.3" fill="#12d012" stroke="#0a800a" stroke-width="0.6"/><path d="M131.40 143.45 H136.00" stroke="#0a800a" stroke-width="0.7"/><rect x="135.85" y="139.47" width="4.3" height="4.3" fill="#12d012" stroke="#0a800a" stroke-width="0.6"/><path d="M135.70 141.62 H140.30" stroke="#0a800a" stroke-width="0.7"/><rect x="140.15" y="137.62" width="4.3" height="4.3" fill="#12d012" stroke="#0a800a" stroke-width="0.6"/><path d="M140.00 139.77 H144.60" stroke="#0a800a" stroke-width="0.7"/><rect x="144.45" y="135.11" width="4.3" height="4.3" fill="#12d012" stroke="#0a800a" stroke-width="0.6"/><path d="M144.30 137.26 H148.90" stroke="#0a800a" stroke-width="0.7"/><rect x="148.75" y="133.50" width="4.3" height="4.3" fill="#12d012" stroke="#0a800a" stroke-width="0.6"/><path d="M148.60 135.65 H153.20" stroke="#0a800a" stroke-width="0.7"/><rect x="153.05" y="131.34" width="4.3" height="4.3" fill="#12d012" stroke="#0a800a" stroke-width="0.6"/><path d="M152.90 133.49 H157.50" stroke="#0a800a" stroke-width="0.7"/><rect x="157.35" y="128.57" width="4.3" height="4.3" fill="#12d012" stroke="#0a800a" stroke-width="0.6"/><path d="M157.20 130.72 H161.80" stroke="#0a800a" stroke-width="0.7"/><rect x="161.65" y="126.39" width="4.3" height="4.3" fill="#12d012" stroke="#0a800a" stroke-width="0.6"/><path d="M161.50 128.54 H166.10" stroke="#0a800a" stroke-width="0.7"/><rect x="165.95" y="124.50" width="4.3" height="4.3" fill="#12d012" stroke="#0a800a" stroke-width="0.6"/><path d="M165.80 126.65 H170.40" stroke="#0a800a" stroke-width="0.7"/><rect x="170.25" y="121.75" width="4.3" height="4.3" fill="#12d012" stroke="#0a800a" stroke-width="0.6"/><path d="M170.10 123.90 H174.70" stroke="#0a800a" stroke-width="0.7"/><rect x="174.55" y="120.06" width="4.3" height="4.3" fill="#12d012" stroke="#0a800a" stroke-width="0.6"/><path d="M174.40 122.21 H179.00" stroke="#0a800a" stroke-width="0.7"/><rect x="178.85" y="118.49" width="4.3" height="4.3" fill="#12d012" stroke="#0a800a" stroke-width="0.6"/><path d="M178.70 120.64 H183.30" stroke="#0a800a" stroke-width="0.7"/><rect x="183.15" y="117.18" width="4.3" height="4.3" fill="#12d012" stroke="#0a800a" stroke-width="0.6"/><path d="M183.00 119.33 H187.60" stroke="#0a800a" stroke-width="0.7"/><rect x="187.45" y="114.64" width="4.3" height="4.3" fill="#12d012" stroke="#0a800a" stroke-width="0.6"/><path d="M187.30 116.79 H191.90" stroke="#0a800a" stroke-width="0.7"/><rect x="191.75" y="112.79" width="4.3" height="4.3" fill="#12d012" stroke="#0a800a" stroke-width="0.6"/><path d="M191.60 114.94 H196.20" stroke="#0a800a" stroke-width="0.7"/><rect x="196.05" y="109.63" width="4.3" height="4.3" fill="#12d012" stroke="#0a800a" stroke-width="0.6"/><path d="M195.90 111.78 H200.50" stroke="#0a800a" stroke-width="0.7"/><rect x="200.35" y="107.43" width="4.3" height="4.3" fill="#12d012" stroke="#0a800a" stroke-width="0.6"/><path d="M200.20 109.58 H204.80" stroke="#0a800a" stroke-width="0.7"/><rect x="204.65" y="105.57" width="4.3" height="4.3" fill="#12d012" stroke="#0a800a" stroke-width="0.6"/><path d="M204.50 107.72 H209.10" stroke="#0a800a" stroke-width="0.7"/><rect x="208.95" y="103.64" width="4.3" height="4.3" fill="#12d012" stroke="#0a800a" stroke-width="0.6"/><path d="M208.80 105.79 H213.40" stroke="#0a800a" stroke-width="0.7"/><rect x="213.25" y="101.94" width="4.3" height="4.3" fill="#12d012" stroke="#0a800a" stroke-width="0.6"/><path d="M213.10 104.09 H217.70" stroke="#0a800a" stroke-width="0.7"/><rect x="217.55" y="100.65" width="4.3" height="4.3" fill="#12d012" stroke="#0a800a" stroke-width="0.6"/><path d="M217.40 102.80 H222.00" stroke="#0a800a" stroke-width="0.7"/><rect x="221.85" y="99.49" width="4.3" height="4.3" fill="#12d012" stroke="#0a800a" stroke-width="0.6"/><path d="M221.70 101.64 H226.30" stroke="#0a800a" stroke-width="0.7"/><rect x="226.15" y="98.53" width="4.3" height="4.3" fill="#12d012" stroke="#0a800a" stroke-width="0.6"/><path d="M226.00 100.68 H230.60" stroke="#0a800a" stroke-width="0.7"/><rect x="230.45" y="96.52" width="4.3" height="4.3" fill="#12d012" stroke="#0a800a" stroke-width="0.6"/><path d="M230.30 98.67 H234.90" stroke="#0a800a" stroke-width="0.7"/><rect x="234.75" y="95.47" width="4.3" height="4.3" fill="#12d012" stroke="#0a800a" stroke-width="0.6"/><path d="M234.60 97.62 H239.20" stroke="#0a800a" stroke-width="0.7"/><rect x="239.05" y="93.92" width="4.3" height="4.3" fill="#12d012" stroke="#0a800a" stroke-width="0.6"/><path d="M238.90 96.07 H243.50" stroke="#0a800a" stroke-width="0.7"/><rect x="243.35" y="91.70" width="4.3" height="4.3" fill="#12d012" stroke="#0a800a" stroke-width="0.6"/><path d="M243.20 93.85 H247.80" stroke="#0a800a" stroke-width="0.7"/><rect x="247.65" y="90.28" width="4.3" height="4.3" fill="#12d012" stroke="#0a800a" stroke-width="0.6"/><path d="M247.50 92.43 H252.10" stroke="#0a800a" stroke-width="0.7"/><rect x="251.95" y="89.42" width="4.3" height="4.3" fill="#12d012" stroke="#0a800a" stroke-width="0.6"/><path d="M251.80 91.57 H256.40" stroke="#0a800a" stroke-width="0.7"/><rect x="256.25" y="87.88" width="4.3" height="4.3" fill="#12d012" stroke="#0a800a" stroke-width="0.6"/><path d="M256.10 90.03 H260.70" stroke="#0a800a" stroke-width="0.7"/><rect x="260.55" y="86.53" width="4.3" height="4.3" fill="#12d012" stroke="#0a800a" stroke-width="0.6"/><path d="M260.40 88.68 H265.00" stroke="#0a800a" stroke-width="0.7"/><rect x="264.85" y="84.50" width="4.3" height="4.3" fill="#12d012" stroke="#0a800a" stroke-width="0.6"/><path d="M264.70 86.65 H269.30" stroke="#0a800a" stroke-width="0.7"/><rect x="269.15" y="82.75" width="4.3" height="4.3" fill="#12d012" stroke="#0a800a" stroke-width="0.6"/><path d="M269.00 84.90 H273.60" stroke="#0a800a" stroke-width="0.7"/><rect x="273.45" y="81.54" width="4.3" height="4.3" fill="#12d012" stroke="#0a800a" stroke-width="0.6"/><path d="M273.30 83.69 H277.90" stroke="#0a800a" stroke-width="0.7"/><rect x="277.75" y="80.66" width="4.3" height="4.3" fill="#12d012" stroke="#0a800a" stroke-width="0.6"/><path d="M277.60 82.81 H282.20" stroke="#0a800a" stroke-width="0.7"/><rect x="282.05" y="79.18" width="4.3" height="4.3" fill="#12d012" stroke="#0a800a" stroke-width="0.6"/><path d="M281.90 81.33 H286.50" stroke="#0a800a" stroke-width="0.7"/><rect x="286.35" y="78.56" width="4.3" height="4.3" fill="#12d012" stroke="#0a800a" stroke-width="0.6"/><path d="M286.20 80.71 H290.80" stroke="#0a800a" stroke-width="0.7"/><rect x="290.65" y="77.93" width="4.3" height="4.3" fill="#12d012" stroke="#0a800a" stroke-width="0.6"/><path d="M290.50 80.08 H295.10" stroke="#0a800a" stroke-width="0.7"/><rect x="294.95" y="77.24" width="4.3" height="4.3" fill="#12d012" stroke="#0a800a" stroke-width="0.6"/><path d="M294.80 79.39 H299.40" stroke="#0a800a" stroke-width="0.7"/><rect x="299.25" y="76.57" width="4.3" height="4.3" fill="#12d012" stroke="#0a800a" stroke-width="0.6"/><path d="M299.10 78.72 H303.70" stroke="#0a800a" stroke-width="0.7"/><rect x="303.55" y="76.48" width="4.3" height="4.3" fill="#12d012" stroke="#0a800a" stroke-width="0.6"/><path d="M303.40 78.63 H308.00" stroke="#0a800a" stroke-width="0.7"/><rect x="307.85" y="75.12" width="4.3" height="4.3" fill="#12d012" stroke="#0a800a" stroke-width="0.6"/><path d="M307.70 77.27 H312.30" stroke="#0a800a" stroke-width="0.7"/><rect x="312.15" y="74.37" width="4.3" height="4.3" fill="#12d012" stroke="#0a800a" stroke-width="0.6"/><path d="M312.00 76.52 H316.60" stroke="#0a800a" stroke-width="0.7"/><rect x="316.45" y="74.74" width="4.3" height="4.3" fill="#12d012" stroke="#0a800a" stroke-width="0.6"/><path d="M316.30 76.89 H320.90" stroke="#0a800a" stroke-width="0.7"/><rect x="320.75" y="74.10" width="4.3" height="4.3" fill="#12d012" stroke="#0a800a" stroke-width="0.6"/><path d="M320.60 76.25 H325.20" stroke="#0a800a" stroke-width="0.7"/><rect x="325.05" y="73.64" width="4.3" height="4.3" fill="#12d012" stroke="#0a800a" stroke-width="0.6"/><path d="M324.90 75.79 H329.50" stroke="#0a800a" stroke-width="0.7"/><rect x="329.35" y="72.58" width="4.3" height="4.3" fill="#12d012" stroke="#0a800a" stroke-width="0.6"/><path d="M329.20 74.73 H333.80" stroke="#0a800a" stroke-width="0.7"/>
<rect x="40.45" y="37.75" width="4.3" height="4.3" fill="#f00010" stroke="#b00010" stroke-width="0.5"/><rect x="43.85" y="36.65" width="4.3" height="4.3" fill="#f00010" stroke="#b00010" stroke-width="0.5"/><rect x="46.35" y="36.05" width="4.3" height="4.3" fill="#f00010" stroke="#b00010" stroke-width="0.5"/><rect x="50.25" y="38.05" width="4.3" height="4.3" fill="#f00010" stroke="#b00010" stroke-width="0.5"/><rect x="54.65" y="42.65" width="4.3" height="4.3" fill="#f00010" stroke="#b00010" stroke-width="0.5"/><rect x="62.75" y="181.20" width="4.3" height="4.3" fill="#f00010" stroke="#b00010" stroke-width="0.6"/><path d="M62.60 183.35 H67.20" stroke="#b00010" stroke-width="0.7"/><rect x="67.05" y="184.99" width="4.3" height="4.3" fill="#f00010" stroke="#b00010" stroke-width="0.6"/><path d="M66.90 187.14 H71.50" stroke="#b00010" stroke-width="0.7"/><rect x="71.35" y="201.52" width="4.3" height="4.3" fill="#f00010" stroke="#b00010" stroke-width="0.6"/><path d="M71.20 203.67 H75.80" stroke="#b00010" stroke-width="0.7"/><rect x="75.65" y="215.00" width="4.3" height="4.3" fill="#f00010" stroke="#b00010" stroke-width="0.6"/><path d="M75.50 217.15 H80.10" stroke="#b00010" stroke-width="0.7"/><rect x="79.95" y="217.83" width="4.3" height="4.3" fill="#f00010" stroke="#b00010" stroke-width="0.6"/><path d="M79.80 219.98 H84.40" stroke="#b00010" stroke-width="0.7"/><rect x="84.25" y="213.64" width="4.3" height="4.3" fill="#f00010" stroke="#b00010" stroke-width="0.6"/><path d="M84.10 215.79 H88.70" stroke="#b00010" stroke-width="0.7"/><rect x="88.55" y="207.41" width="4.3" height="4.3" fill="#f00010" stroke="#b00010" stroke-width="0.6"/><path d="M88.40 209.56 H93.00" stroke="#b00010" stroke-width="0.7"/><rect x="92.85" y="200.39" width="4.3" height="4.3" fill="#f00010" stroke="#b00010" stroke-width="0.6"/><path d="M92.70 202.54 H97.30" stroke="#b00010" stroke-width="0.7"/><rect x="97.15" y="194.10" width="4.3" height="4.3" fill="#f00010" stroke="#b00010" stroke-width="0.6"/><path d="M97.00 196.25 H101.60" stroke="#b00010" stroke-width="0.7"/><rect x="101.45" y="188.94" width="4.3" height="4.3" fill="#f00010" stroke="#b00010" stroke-width="0.6"/><path d="M101.30 191.09 H105.90" stroke="#b00010" stroke-width="0.7"/><rect x="105.75" y="186.75" width="4.3" height="4.3" fill="#f00010" stroke="#b00010" stroke-width="0.6"/><path d="M105.60 188.90 H110.20" stroke="#b00010" stroke-width="0.7"/><rect x="110.05" y="184.88" width="4.3" height="4.3" fill="#f00010" stroke="#b00010" stroke-width="0.6"/><path d="M109.90 187.03 H114.50" stroke="#b00010" stroke-width="0.7"/><rect x="114.35" y="180.75" width="4.3" height="4.3" fill="#f00010" stroke="#b00010" stroke-width="0.6"/><path d="M114.20 182.90 H118.80" stroke="#b00010" stroke-width="0.7"/><rect x="118.65" y="174.39" width="4.3" height="4.3" fill="#f00010" stroke="#b00010" stroke-width="0.6"/><path d="M118.50 176.54 H123.10" stroke="#b00010" stroke-width="0.7"/><rect x="122.95" y="169.14" width="4.3" height="4.3" fill="#f00010" stroke="#b00010" stroke-width="0.6"/><path d="M122.80 171.29 H127.40" stroke="#b00010" stroke-width="0.7"/><rect x="127.25" y="164.93" width="4.3" height="4.3" fill="#f00010" stroke="#b00010" stroke-width="0.6"/><path d="M127.10 167.08 H131.70" stroke="#b00010" stroke-width="0.7"/><rect x="131.55" y="162.21" width="4.3" height="4.3" fill="#f00010" stroke="#b00010" stroke-width="0.6"/><path d="M131.40 164.36 H136.00" stroke="#b00010" stroke-width="0.7"/><rect x="135.85" y="160.62" width="4.3" height="4.3" fill="#f00010" stroke="#b00010" stroke-width="0.6"/><path d="M135.70 162.77 H140.30" stroke="#b00010" stroke-width="0.7"/><rect x="140.15" y="158.32" width="4.3" height="4.3" fill="#f00010" stroke="#b00010" stroke-width="0.6"/><path d="M140.00 160.47 H144.60" stroke="#b00010" stroke-width="0.7"/><rect x="144.45" y="155.07" width="4.3" height="4.3" fill="#f00010" stroke="#b00010" stroke-width="0.6"/><path d="M144.30 157.22 H148.90" stroke="#b00010" stroke-width="0.7"/><rect x="148.75" y="150.31" width="4.3" height="4.3" fill="#f00010" stroke="#b00010" stroke-width="0.6"/><path d="M148.60 152.46 H153.20" stroke="#b00010" stroke-width="0.7"/><rect x="153.05" y="145.44" width="4.3" height="4.3" fill="#f00010" stroke="#b00010" stroke-width="0.6"/><path d="M152.90 147.59 H157.50" stroke="#b00010" stroke-width="0.7"/><rect x="157.35" y="139.45" width="4.3" height="4.3" fill="#f00010" stroke="#b00010" stroke-width="0.6"/><path d="M157.20 141.60 H161.80" stroke="#b00010" stroke-width="0.7"/><rect x="161.65" y="133.48" width="4.3" height="4.3" fill="#f00010" stroke="#b00010" stroke-width="0.6"/><path d="M161.50 135.63 H166.10" stroke="#b00010" stroke-width="0.7"/><rect x="165.95" y="130.79" width="4.3" height="4.3" fill="#f00010" stroke="#b00010" stroke-width="0.6"/><path d="M165.80 132.94 H170.40" stroke="#b00010" stroke-width="0.7"/><rect x="170.25" y="129.18" width="4.3" height="4.3" fill="#f00010" stroke="#b00010" stroke-width="0.6"/><path d="M170.10 131.33 H174.70" stroke="#b00010" stroke-width="0.7"/><rect x="174.55" y="125.84" width="4.3" height="4.3" fill="#f00010" stroke="#b00010" stroke-width="0.6"/><path d="M174.40 127.99 H179.00" stroke="#b00010" stroke-width="0.7"/><rect x="178.85" y="123.00" width="4.3" height="4.3" fill="#f00010" stroke="#b00010" stroke-width="0.6"/><path d="M178.70 125.15 H183.30" stroke="#b00010" stroke-width="0.7"/><rect x="183.15" y="121.54" width="4.3" height="4.3" fill="#f00010" stroke="#b00010" stroke-width="0.6"/><path d="M183.00 123.69 H187.60" stroke="#b00010" stroke-width="0.7"/><rect x="187.45" y="119.74" width="4.3" height="4.3" fill="#f00010" stroke="#b00010" stroke-width="0.6"/><path d="M187.30 121.89 H191.90" stroke="#b00010" stroke-width="0.7"/><rect x="191.75" y="116.35" width="4.3" height="4.3" fill="#f00010" stroke="#b00010" stroke-width="0.6"/><path d="M191.60 118.50 H196.20" stroke="#b00010" stroke-width="0.7"/><rect x="196.05" y="112.48" width="4.3" height="4.3" fill="#f00010" stroke="#b00010" stroke-width="0.6"/><path d="M195.90 114.63 H200.50" stroke="#b00010" stroke-width="0.7"/><rect x="200.35" y="109.71" width="4.3" height="4.3" fill="#f00010" stroke="#b00010" stroke-width="0.6"/><path d="M200.20 111.86 H204.80" stroke="#b00010" stroke-width="0.7"/><rect x="204.65" y="106.75" width="4.3" height="4.3" fill="#f00010" stroke="#b00010" stroke-width="0.6"/><path d="M204.50 108.90 H209.10" stroke="#b00010" stroke-width="0.7"/><rect x="208.95" y="105.49" width="4.3" height="4.3" fill="#f00010" stroke="#b00010" stroke-width="0.6"/><path d="M208.80 107.64 H213.40" stroke="#b00010" stroke-width="0.7"/><rect x="213.25" y="103.85" width="4.3" height="4.3" fill="#f00010" stroke="#b00010" stroke-width="0.6"/><path d="M213.10 106.00 H217.70" stroke="#b00010" stroke-width="0.7"/><rect x="217.55" y="102.87" width="4.3" height="4.3" fill="#f00010" stroke="#b00010" stroke-width="0.6"/><path d="M217.40 105.02 H222.00" stroke="#b00010" stroke-width="0.7"/><rect x="221.85" y="102.10" width="4.3" height="4.3" fill="#f00010" stroke="#b00010" stroke-width="0.6"/><path d="M221.70 104.25 H226.30" stroke="#b00010" stroke-width="0.7"/><rect x="226.15" y="100.51" width="4.3" height="4.3" fill="#f00010" stroke="#b00010" stroke-width="0.6"/><path d="M226.00 102.66 H230.60" stroke="#b00010" stroke-width="0.7"/><rect x="230.45" y="98.33" width="4.3" height="4.3" fill="#f00010" stroke="#b00010" stroke-width="0.6"/><path d="M230.30 100.48 H234.90" stroke="#b00010" stroke-width="0.7"/><rect x="234.75" y="98.56" width="4.3" height="4.3" fill="#f00010" stroke="#b00010" stroke-width="0.6"/><path d="M234.60 100.71 H239.20" stroke="#b00010" stroke-width="0.7"/><rect x="239.05" y="97.57" width="4.3" height="4.3" fill="#f00010" stroke="#b00010" stroke-width="0.6"/><path d="M238.90 99.72 H243.50" stroke="#b00010" stroke-width="0.7"/><rect x="243.35" y="96.03" width="4.3" height="4.3" fill="#f00010" stroke="#b00010" stroke-width="0.6"/><path d="M243.20 98.18 H247.80" stroke="#b00010" stroke-width="0.7"/><rect x="247.65" y="94.66" width="4.3" height="4.3" fill="#f00010" stroke="#b00010" stroke-width="0.6"/><path d="M247.50 96.81 H252.10" stroke="#b00010" stroke-width="0.7"/><rect x="251.95" y="91.98" width="4.3" height="4.3" fill="#f00010" stroke="#b00010" stroke-width="0.6"/><path d="M251.80 94.13 H256.40" stroke="#b00010" stroke-width="0.7"/><rect x="256.25" y="90.62" width="4.3" height="4.3" fill="#f00010" stroke="#b00010" stroke-width="0.6"/><path d="M256.10 92.77 H260.70" stroke="#b00010" stroke-width="0.7"/><rect x="260.55" y="90.17" width="4.3" height="4.3" fill="#f00010" stroke="#b00010" stroke-width="0.6"/><path d="M260.40 92.32 H265.00" stroke="#b00010" stroke-width="0.7"/><rect x="264.85" y="88.59" width="4.3" height="4.3" fill="#f00010" stroke="#b00010" stroke-width="0.6"/><path d="M264.70 90.74 H269.30" stroke="#b00010" stroke-width="0.7"/><rect x="269.15" y="87.92" width="4.3" height="4.3" fill="#f00010" stroke="#b00010" stroke-width="0.6"/><path d="M269.00 90.07 H273.60" stroke="#b00010" stroke-width="0.7"/><rect x="273.45" y="87.03" width="4.3" height="4.3" fill="#f00010" stroke="#b00010" stroke-width="0.6"/><path d="M273.30 89.18 H277.90" stroke="#b00010" stroke-width="0.7"/><rect x="277.75" y="86.40" width="4.3" height="4.3" fill="#f00010" stroke="#b00010" stroke-width="0.6"/><path d="M277.60 88.55 H282.20" stroke="#b00010" stroke-width="0.7"/><rect x="282.05" y="85.60" width="4.3" height="4.3" fill="#f00010" stroke="#b00010" stroke-width="0.6"/><path d="M281.90 87.75 H286.50" stroke="#b00010" stroke-width="0.7"/><rect x="286.35" y="84.96" width="4.3" height="4.3" fill="#f00010" stroke="#b00010" stroke-width="0.6"/><path d="M286.20 87.11 H290.80" stroke="#b00010" stroke-width="0.7"/><rect x="290.65" y="84.58" width="4.3" height="4.3" fill="#f00010" stroke="#b00010" stroke-width="0.6"/><path d="M290.50 86.73 H295.10" stroke="#b00010" stroke-width="0.7"/><rect x="294.95" y="83.12" width="4.3" height="4.3" fill="#f00010" stroke="#b00010" stroke-width="0.6"/><path d="M294.80 85.27 H299.40" stroke="#b00010" stroke-width="0.7"/><rect x="299.25" y="82.44" width="4.3" height="4.3" fill="#f00010" stroke="#b00010" stroke-width="0.6"/><path d="M299.10 84.59 H303.70" stroke="#b00010" stroke-width="0.7"/><rect x="303.55" y="81.71" width="4.3" height="4.3" fill="#f00010" stroke="#b00010" stroke-width="0.6"/><path d="M303.40 83.86 H308.00" stroke="#b00010" stroke-width="0.7"/><rect x="307.85" y="80.90" width="4.3" height="4.3" fill="#f00010" stroke="#b00010" stroke-width="0.6"/><path d="M307.70 83.05 H312.30" stroke="#b00010" stroke-width="0.7"/><rect x="312.15" y="80.04" width="4.3" height="4.3" fill="#f00010" stroke="#b00010" stroke-width="0.6"/><path d="M312.00 82.19 H316.60" stroke="#b00010" stroke-width="0.7"/><rect x="316.45" y="80.14" width="4.3" height="4.3" fill="#f00010" stroke="#b00010" stroke-width="0.6"/><path d="M316.30 82.29 H320.90" stroke="#b00010" stroke-width="0.7"/><rect x="320.75" y="79.22" width="4.3" height="4.3" fill="#f00010" stroke="#b00010" stroke-width="0.6"/><path d="M320.60 81.37 H325.20" stroke="#b00010" stroke-width="0.7"/><rect x="325.05" y="77.65" width="4.3" height="4.3" fill="#f00010" stroke="#b00010" stroke-width="0.6"/><path d="M324.90 79.80 H329.50" stroke="#b00010" stroke-width="0.7"/><rect x="329.35" y="77.35" width="4.3" height="4.3" fill="#f00010" stroke="#b00010" stroke-width="0.6"/><path d="M329.20 79.50 H333.80" stroke="#b00010" stroke-width="0.7"/>
<rect x="253.75" y="96.15" width="4.3" height="4.3" fill="#12d012" stroke="#0a800a" stroke-width="0.5"/>
<rect x="262.75" y="94.45" width="4.3" height="4.3" fill="#12d012" stroke="#0a800a" stroke-width="0.5"/>
<rect x="270.65" y="84.85" width="4.3" height="4.3" fill="#12d012" stroke="#0a800a" stroke-width="0.5"/>
<rect x="278.65" y="80.35" width="4.3" height="4.3" fill="#12d012" stroke="#0a800a" stroke-width="0.5"/>
<rect x="286.55" y="89.35" width="4.3" height="4.3" fill="#12d012" stroke="#0a800a" stroke-width="0.5"/>
<rect x="292.25" y="88.85" width="4.3" height="4.3" fill="#12d012" stroke="#0a800a" stroke-width="0.5"/>
<rect x="305.85" y="79.15" width="4.3" height="4.3" fill="#12d012" stroke="#0a800a" stroke-width="0.5"/>
<path d="M40.5 7.5 H332.8 V222.2 H40.5 Z" fill="none" stroke="#5a5a5a" stroke-width="1.4"/>
<path d="M36.0 7.50 H40.5" stroke="#5a5a5a" stroke-width="1"/>
<text x="33.3" y="10.40" font-family="Liberation Sans, sans-serif" stroke="#222" stroke-width="0.3" font-size="9.7" fill="#1a1a1a" text-anchor="end">0.5</text>
<path d="M38.0 16.45 H40.5" stroke="#5a5a5a" stroke-width="1"/>
<path d="M36.0 25.39 H40.5" stroke="#5a5a5a" stroke-width="1"/>
<text x="33.3" y="28.29" font-family="Liberation Sans, sans-serif" stroke="#222" stroke-width="0.3" font-size="9.7" fill="#1a1a1a" text-anchor="end">0.0</text>
<path d="M38.0 34.34 H40.5" stroke="#5a5a5a" stroke-width="1"/>
<path d="M36.0 43.28 H40.5" stroke="#5a5a5a" stroke-width="1"/>
<text x="33.3" y="46.18" font-family="Liberation Sans, sans-serif" stroke="#222" stroke-width="0.3" font-size="9.7" fill="#1a1a1a" text-anchor="end">-0.5</text>
<path d="M38.0 52.23 H40.5" stroke="#5a5a5a" stroke-width="1"/>
<path d="M36.0 61.17 H40.5" stroke="#5a5a5a" stroke-width="1"/>
<text x="33.3" y="64.07" font-family="Liberation Sans, sans-serif" stroke="#222" stroke-width="0.3" font-size="9.7" fill="#1a1a1a" text-anchor="end">-1.0</text>
<path d="M38.0 70.12 H40.5" stroke="#5a5a5a" stroke-width="1"/>
<path d="M36.0 79.07 H40.5" stroke="#5a5a5a" stroke-width="1"/>
<text x="33.3" y="81.97" font-family="Liberation Sans, sans-serif" stroke="#222" stroke-width="0.3" font-size="9.7" fill="#1a1a1a" text-anchor="end">-1.5</text>
<path d="M38.0 88.01 H40.5" stroke="#5a5a5a" stroke-width="1"/>
<path d="M36.0 96.96 H40.5" stroke="#5a5a5a" stroke-width="1"/>
<text x="33.3" y="99.86" font-family="Liberation Sans, sans-serif" stroke="#222" stroke-width="0.3" font-size="9.7" fill="#1a1a1a" text-anchor="end">-2.0</text>
<path d="M38.0 105.90 H40.5" stroke="#5a5a5a" stroke-width="1"/>
<path d="M36.0 114.85 H40.5" stroke="#5a5a5a" stroke-width="1"/>
<text x="33.3" y="117.75" font-family="Liberation Sans, sans-serif" stroke="#222" stroke-width="0.3" font-size="9.7" fill="#1a1a1a" text-anchor="end">-2.5</text>
<path d="M38.0 123.80 H40.5" stroke="#5a5a5a" stroke-width="1"/>
<path d="M36.0 132.74 H40.5" stroke="#5a5a5a" stroke-width="1"/>
<text x="33.3" y="135.64" font-family="Liberation Sans, sans-serif" stroke="#222" stroke-width="0.3" font-size="9.7" fill="#1a1a1a" text-anchor="end">-3.0</text>
<path d="M38.0 141.69 H40.5" stroke="#5a5a5a" stroke-width="1"/>
<path d="M36.0 150.63 H40.5" stroke="#5a5a5a" stroke-width="1"/>
<text x="33.3" y="153.53" font-family="Liberation Sans, sans-serif" stroke="#222" stroke-width="0.3" font-size="9.7" fill="#1a1a1a" text-anchor="end">-3.5</text>
<path d="M38.0 159.58 H40.5" stroke="#5a5a5a" stroke-width="1"/>
<path d="M36.0 168.53 H40.5" stroke="#5a5a5a" stroke-width="1"/>
<text x="33.3" y="171.43" font-family="Liberation Sans, sans-serif" stroke="#222" stroke-width="0.3" font-size="9.7" fill="#1a1a1a" text-anchor="end">-4.0</text>
<path d="M38.0 177.47 H40.5" stroke="#5a5a5a" stroke-width="1"/>
<path d="M36.0 186.42 H40.5" stroke="#5a5a5a" stroke-width="1"/>
<text x="33.3" y="189.32" font-family="Liberation Sans, sans-serif" stroke="#222" stroke-width="0.3" font-size="9.7" fill="#1a1a1a" text-anchor="end">-4.5</text>
<path d="M38.0 195.36 H40.5" stroke="#5a5a5a" stroke-width="1"/>
<path d="M36.0 204.31 H40.5" stroke="#5a5a5a" stroke-width="1"/>
<text x="33.3" y="207.21" font-family="Liberation Sans, sans-serif" stroke="#222" stroke-width="0.3" font-size="9.7" fill="#1a1a1a" text-anchor="end">-5.0</text>
<path d="M38.0 213.25 H40.5" stroke="#5a5a5a" stroke-width="1"/>
<path d="M36.0 222.20 H40.5" stroke="#5a5a5a" stroke-width="1"/>
<text x="33.3" y="225.10" font-family="Liberation Sans, sans-serif" stroke="#222" stroke-width="0.3" font-size="9.7" fill="#1a1a1a" text-anchor="end">-5.5</text>
<path d="M40.50 222.2 V226.2" stroke="#5a5a5a" stroke-width="1"/>
<text x="40.50" y="236.50" font-family="Liberation Sans, sans-serif" stroke="#222" stroke-width="0.3" font-size="9.6" fill="#1a1a1a" text-anchor="middle">0</text>
<path d="M64.86 222.2 V224.7" stroke="#5a5a5a" stroke-width="1"/>
<path d="M89.22 222.2 V226.2" stroke="#5a5a5a" stroke-width="1"/>
<text x="89.22" y="236.50" font-family="Liberation Sans, sans-serif" stroke="#222" stroke-width="0.3" font-size="9.6" fill="#1a1a1a" text-anchor="middle">2000</text>
<path d="M113.58 222.2 V224.7" stroke="#5a5a5a" stroke-width="1"/>
<path d="M137.93 222.2 V226.2" stroke="#5a5a5a" stroke-width="1"/>
<text x="137.93" y="236.50" font-family="Liberation Sans, sans-serif" stroke="#222" stroke-width="0.3" font-size="9.6" fill="#1a1a1a" text-anchor="middle">4000</text>
<path d="M162.29 222.2 V224.7" stroke="#5a5a5a" stroke-width="1"/>
<path d="M186.65 222.2 V226.2" stroke="#5a5a5a" stroke-width="1"/>
<text x="186.65" y="236.50" font-family="Liberation Sans, sans-serif" stroke="#222" stroke-width="0.3" font-size="9.6" fill="#1a1a1a" text-anchor="middle">6000</text>
<path d="M211.01 222.2 V224.7" stroke="#5a5a5a" stroke-width="1"/>
<path d="M235.37 222.2 V226.2" stroke="#5a5a5a" stroke-width="1"/>
<text x="235.37" y="236.50" font-family="Liberation Sans, sans-serif" stroke="#222" stroke-width="0.3" font-size="9.6" fill="#1a1a1a" text-anchor="middle">8000</text>
<path d="M259.73 222.2 V224.7" stroke="#5a5a5a" stroke-width="1"/>
<path d="M284.08 222.2 V226.2" stroke="#5a5a5a" stroke-width="1"/>
<text x="284.08" y="236.50" font-family="Liberation Sans, sans-serif" stroke="#222" stroke-width="0.3" font-size="9.6" fill="#1a1a1a" text-anchor="middle">10000</text>
<path d="M308.44 222.2 V224.7" stroke="#5a5a5a" stroke-width="1"/>
<path d="M332.80 222.2 V226.2" stroke="#5a5a5a" stroke-width="1"/>
<text x="332.80" y="236.50" font-family="Liberation Sans, sans-serif" stroke="#222" stroke-width="0.3" font-size="9.6" fill="#1a1a1a" text-anchor="middle">12000</text>
<text x="186.5" y="254.1" font-family="Liberation Sans, sans-serif" stroke="#222" stroke-width="0.3" font-size="11.5" fill="#1a1a1a" text-anchor="middle">Time (s)</text>
<text transform="translate(12.2,114.5) rotate(-90)" font-family="Liberation Sans, sans-serif" stroke="#222" stroke-width="0.3" font-size="11.52" fill="#1a1a1a" text-anchor="middle">Change in DO concentration (ppm)</text>
<text x="67" y="21" font-family="Liberation Sans, sans-serif" stroke="#24244a" stroke-width="0.3" font-size="13.8" fill="#24244a">a)</text>
<path d="M146.5 7.5 V66.6 H332.8" fill="none" stroke="#aaa" stroke-width="0.9"/>
<rect x="158.30" y="13.80" width="5.0" height="5.0" fill="#b0800e"/>
<text x="176.3" y="20.80" font-family="Liberation Sans, sans-serif" stroke="#222" stroke-width="0.3" font-size="11.62" fill="#1a1a1a">30s (7mm 4SLM 35W DMEM)</text>
<rect x="158.30" y="27.95" width="5.0" height="5.0" fill="#6aaa1e"/>
<text x="176.3" y="34.95" font-family="Liberation Sans, sans-serif" stroke="#222" stroke-width="0.3" font-size="11.62" fill="#1a1a1a">60s</text>
<rect x="158.30" y="42.10" width="5.0" height="5.0" fill="#12d012"/>
<text x="176.3" y="49.10" font-family="Liberation Sans, sans-serif" stroke="#222" stroke-width="0.3" font-size="11.62" fill="#1a1a1a">90s</text>
<rect x="158.30" y="56.25" width="5.0" height="5.0" fill="#f00010"/>
<text x="176.3" y="63.25" font-family="Liberation Sans, sans-serif" stroke="#222" stroke-width="0.3" font-size="11.62" fill="#1a1a1a">180s</text>
</g>
<rect x="337.6" y="228" width="30" height="20" fill="#fff"/>
<g>
<rect x="390.3" y="8.3" width="10.6" height="219.5" fill="#c4c4c7"/>
<path d="M390.9 9.2 V227.8" stroke="#7a7a7e" stroke-width="1.3"/>
<path d="M400.6 9.2 V227.8" stroke="#8a8a8e" stroke-width="0.9"/>
<text transform="translate(400.0,216.6) rotate(-90)" font-family="Liberation Sans, sans-serif" stroke="#222" stroke-width="0.3" font-size="11.92" fill="#222">PLASMA JET</text>
<path d="M382.50 45.70 V59.00 M380.50 45.70 H384.50 M380.50 59.00 H384.50" stroke="#555555" stroke-width="0.75" fill="none"/><path d="M392.20 34.20 V44.30 M390.20 34.20 H394.20 M390.20 44.30 H394.20" stroke="#555" stroke-width="0.75" fill="none"/><path d="M395.20 51.00 V63.00 M393.20 51.00 H397.20 M393.20 63.00 H397.20" stroke="#555555" stroke-width="0.75" fill="none"/><path d="M400.50 93.30 V150.00 M398.50 93.30 H402.50 M398.50 150.00 H402.50" stroke="#444" stroke-width="0.75" fill="none"/><path d="M421.30 114.00 V129.30 M419.30 114.00 H423.30 M419.30 129.30 H423.30" stroke="#888" stroke-width="0.75" fill="none"/><path d="M404.90 164.90 V177.50 M402.90 164.90 H406.90 M402.90 177.50 H406.90" stroke="#888" stroke-width="0.75" fill="none"/><path d="M409.00 180.60 V190.40 M407.00 180.60 H411.00 M407.00 190.40 H411.00" stroke="#888" stroke-width="0.75" fill="none"/><path d="M465.10 93.50 V104.60 M463.10 93.50 H467.10 M463.10 104.60 H467.10" stroke="#888" stroke-width="0.75" fill="none"/><path d="M630.80 73.50 V80.00 M628.80 73.50 H632.80 M628.80 80.00 H632.80" stroke="#999" stroke-width="0.75" fill="none"/><path d="M373.70 50.81 L376.10 55.13 L371.30 55.13 Z" fill="#f0a068" stroke="#9a5520" stroke-width="0.5"/><path d="M377.20 49.31 L379.60 53.63 L374.80 53.63 Z" fill="#f0a068" stroke="#9a5520" stroke-width="0.5"/><path d="M382.30 49.31 L384.70 53.63 L379.90 53.63 Z" fill="#f0a068" stroke="#9a5520" stroke-width="0.5"/><path d="M386.70 36.71 L389.10 41.03 L384.30 41.03 Z" fill="#f0a068" stroke="#9a5520" stroke-width="0.5"/><path d="M390.80 72.21 L393.20 76.53 L388.40 76.53 Z" fill="#f0a068" stroke="#9a5520" stroke-width="0.5"/><rect x="376.50" y="47.00" width="3.6" height="3.6" fill="#56b2f2" stroke="#2a70b0" stroke-width="0.4"/><rect x="380.50" y="46.00" width="3.6" height="3.6" fill="#56b2f2" stroke="#2a70b0" stroke-width="0.4"/><rect x="390.40" y="37.30" width="3.6" height="3.6" fill="#56b2f2" stroke="#2a70b0" stroke-width="0.4"/><circle cx="386.10" cy="50.50" r="2.3" fill="#10d010" stroke="#0a7a0a" stroke-width="0.4"/><circle cx="389.10" cy="51.10" r="2.3" fill="#10d010" stroke="#0a7a0a" stroke-width="0.4"/><circle cx="391.00" cy="52.30" r="2.3" fill="#10d010" stroke="#0a7a0a" stroke-width="0.4"/><circle cx="395.20" cy="56.00" r="2.8" fill="#10d010" stroke="#0a7a0a" stroke-width="0.4"/><path d="M399.40 104.57 L401.90 109.07 L396.90 109.07 Z" fill="#f0a068" stroke="#9a5520" stroke-width="0.35"/><path d="M397.90 105.67 H400.90" stroke="#9a5520" stroke-width="1.1"/><path d="M403.75 100.69 L406.25 105.19 L401.25 105.19 Z" fill="#f0a068" stroke="#9a5520" stroke-width="0.35"/><path d="M402.25 101.79 H405.25" stroke="#9a5520" stroke-width="1.1"/><path d="M408.10 104.60 L410.60 109.10 L405.60 109.10 Z" fill="#f0a068" stroke="#9a5520" stroke-width="0.35"/><path d="M406.60 105.70 H409.60" stroke="#9a5520" stroke-width="1.1"/><path d="M412.45 108.68 L414.95 113.18 L409.95 113.18 Z" fill="#f0a068" stroke="#9a5520" stroke-width="0.35"/><path d="M410.95 109.78 H413.95" stroke="#9a5520" stroke-width="1.1"/><path d="M416.80 111.98 L419.30 116.48 L414.30 116.48 Z" fill="#f0a068" stroke="#9a5520" stroke-width="0.35"/><path d="M415.30 113.08 H418.30" stroke="#9a5520" stroke-width="1.1"/><path d="M421.15 112.62 L423.65 117.12 L418.65 117.12 Z" fill="#f0a068" stroke="#9a5520" stroke-width="0.35"/><path d="M419.65 113.72 H422.65" stroke="#9a5520" stroke-width="1.1"/><path d="M425.50 111.27 L428.00 115.77 L423.00 115.77 Z" fill="#f0a068" stroke="#9a5520" stroke-width="0.35"/><path d="M424.00 112.37 H427.00" stroke="#9a5520" stroke-width="1.1"/><path d="M429.85 108.29 L432.35 112.79 L427.35 112.79 Z" fill="#f0a068" stroke="#9a5520" stroke-width="0.35"/><path d="M428.35 109.39 H431.35" stroke="#9a5520" stroke-width="1.1"/><path d="M434.20 107.38 L436.70 111.88 L431.70 111.88 Z" fill="#f0a068" stroke="#9a5520" stroke-width="0.35"/><path d="M432.70 108.48 H435.70" stroke="#9a5520" stroke-width="1.1"/><path d="M438.55 105.32 L441.05 109.82 L436.05 109.82 Z" fill="#f0a068" stroke="#9a5520" stroke-width="0.35"/><path d="M437.05 106.42 H440.05" stroke="#9a5520" stroke-width="1.1"/><path d="M442.90 102.98 L445.40 107.48 L440.40 107.48 Z" fill="#f0a068" stroke="#9a5520" stroke-width="0.35"/><path d="M441.40 104.08 H444.40" stroke="#9a5520" stroke-width="1.1"/><path d="M447.25 101.95 L449.75 106.45 L444.75 106.45 Z" fill="#f0a068" stroke="#9a5520" stroke-width="0.35"/><path d="M445.75 103.05 H448.75" stroke="#9a5520" stroke-width="1.1"/><path d="M451.60 100.11 L454.10 104.61 L449.10 104.61 Z" fill="#f0a068" stroke="#9a5520" stroke-width="0.35"/><path d="M450.10 101.21 H453.10" stroke="#9a5520" stroke-width="1.1"/><path d="M455.95 98.81 L458.45 103.31 L453.45 103.31 Z" fill="#f0a068" stroke="#9a5520" stroke-width="0.35"/><path d="M454.45 99.91 H457.45" stroke="#9a5520" stroke-width="1.1"/><path d="M460.30 98.34 L462.80 102.84 L457.80 102.84 Z" fill="#f0a068" stroke="#9a5520" stroke-width="0.35"/><path d="M458.80 99.44 H461.80" stroke="#9a5520" stroke-width="1.1"/><path d="M464.65 96.22 L467.15 100.72 L462.15 100.72 Z" fill="#f0a068" stroke="#9a5520" stroke-width="0.35"/><path d="M463.15 97.32 H466.15" stroke="#9a5520" stroke-width="1.1"/><path d="M469.00 96.95 L471.50 101.45 L466.50 101.45 Z" fill="#f0a068" stroke="#9a5520" stroke-width="0.35"/><path d="M467.50 98.05 H470.50" stroke="#9a5520" stroke-width="1.1"/><path d="M473.35 94.51 L475.85 99.01 L470.85 99.01 Z" fill="#f0a068" stroke="#9a5520" stroke-width="0.35"/><path d="M471.85 95.61 H474.85" stroke="#9a5520" stroke-width="1.1"/><path d="M477.70 93.95 L480.20 98.45 L475.20 98.45 Z" fill="#f0a068" stroke="#9a5520" stroke-width="0.35"/><path d="M476.20 95.05 H479.20" stroke="#9a5520" stroke-width="1.1"/><path d="M482.05 93.79 L484.55 98.29 L479.55 98.29 Z" fill="#f0a068" stroke="#9a5520" stroke-width="0.35"/><path d="M480.55 94.89 H483.55" stroke="#9a5520" stroke-width="1.1"/><path d="M486.40 93.10 L488.90 97.60 L483.90 97.60 Z" fill="#f0a068" stroke="#9a5520" stroke-width="0.35"/><path d="M484.90 94.20 H487.90" stroke="#9a5520" stroke-width="1.1"/><path d="M490.75 92.67 L493.25 97.17 L488.25 97.17 Z" fill="#f0a068" stroke="#9a5520" stroke-width="0.35"/><path d="M489.25 93.77 H492.25" stroke="#9a5520" stroke-width="1.1"/><path d="M495.10 90.50 L497.60 95.00 L492.60 95.00 Z" fill="#f0a068" stroke="#9a5520" stroke-width="0.35"/><path d="M493.60 91.60 H496.60" stroke="#9a5520" stroke-width="1.1"/><path d="M499.45 89.19 L501.95 93.69 L496.95 93.69 Z" fill="#f0a068" stroke="#9a5520" stroke-width="0.35"/><path d="M497.95 90.29 H500.95" stroke="#9a5520" stroke-width="1.1"/><path d="M503.80 89.62 L506.30 94.12 L501.30 94.12 Z" fill="#f0a068" stroke="#9a5520" stroke-width="0.35"/><path d="M502.30 90.72 H505.30" stroke="#9a5520" stroke-width="1.1"/><path d="M508.15 88.61 L510.65 93.11 L505.65 93.11 Z" fill="#f0a068" stroke="#9a5520" stroke-width="0.35"/><path d="M506.65 89.71 H509.65" stroke="#9a5520" stroke-width="1.1"/><path d="M512.50 86.89 L515.00 91.39 L510.00 91.39 Z" fill="#f0a068" stroke="#9a5520" stroke-width="0.35"/><path d="M511.00 87.99 H514.00" stroke="#9a5520" stroke-width="1.1"/><path d="M516.85 86.52 L519.35 91.02 L514.35 91.02 Z" fill="#f0a068" stroke="#9a5520" stroke-width="0.35"/><path d="M515.35 87.62 H518.35" stroke="#9a5520" stroke-width="1.1"/><path d="M521.20 86.03 L523.70 90.53 L518.70 90.53 Z" fill="#f0a068" stroke="#9a5520" stroke-width="0.35"/><path d="M519.70 87.13 H522.70" stroke="#9a5520" stroke-width="1.1"/><path d="M525.55 86.14 L528.05 90.64 L523.05 90.64 Z" fill="#f0a068" stroke="#9a5520" stroke-width="0.35"/><path d="M524.05 87.24 H527.05" stroke="#9a5520" stroke-width="1.1"/><path d="M529.90 85.36 L532.40 89.86 L527.40 89.86 Z" fill="#f0a068" stroke="#9a5520" stroke-width="0.35"/><path d="M528.40 86.46 H531.40" stroke="#9a5520" stroke-width="1.1"/><path d="M534.25 84.71 L536.75 89.21 L531.75 89.21 Z" fill="#f0a068" stroke="#9a5520" stroke-width="0.35"/><path d="M532.75 85.81 H535.75" stroke="#9a5520" stroke-width="1.1"/><path d="M538.60 83.52 L541.10 88.02 L536.10 88.02 Z" fill="#f0a068" stroke="#9a5520" stroke-width="0.35"/><path d="M537.10 84.62 H540.10" stroke="#9a5520" stroke-width="1.1"/><path d="M542.95 81.16 L545.45 85.66 L540.45 85.66 Z" fill="#f0a068" stroke="#9a5520" stroke-width="0.35"/><path d="M541.45 82.26 H544.45" stroke="#9a5520" stroke-width="1.1"/><path d="M547.30 80.30 L549.80 84.80 L544.80 84.80 Z" fill="#f0a068" stroke="#9a5520" stroke-width="0.35"/><path d="M545.80 81.40 H548.80" stroke="#9a5520" stroke-width="1.1"/><path d="M551.65 79.56 L554.15 84.06 L549.15 84.06 Z" fill="#f0a068" stroke="#9a5520" stroke-width="0.35"/><path d="M550.15 80.66 H553.15" stroke="#9a5520" stroke-width="1.1"/><path d="M556.00 79.42 L558.50 83.92 L553.50 83.92 Z" fill="#f0a068" stroke="#9a5520" stroke-width="0.35"/><path d="M554.50 80.52 H557.50" stroke="#9a5520" stroke-width="1.1"/><path d="M560.35 78.79 L562.85 83.29 L557.85 83.29 Z" fill="#f0a068" stroke="#9a5520" stroke-width="0.35"/><path d="M558.85 79.89 H561.85" stroke="#9a5520" stroke-width="1.1"/><path d="M564.70 78.97 L567.20 83.47 L562.20 83.47 Z" fill="#f0a068" stroke="#9a5520" stroke-width="0.35"/><path d="M563.20 80.07 H566.20" stroke="#9a5520" stroke-width="1.1"/><path d="M569.05 79.41 L571.55 83.91 L566.55 83.91 Z" fill="#f0a068" stroke="#9a5520" stroke-width="0.35"/><path d="M567.55 80.51 H570.55" stroke="#9a5520" stroke-width="1.1"/><path d="M573.40 78.06 L575.90 82.56 L570.90 82.56 Z" fill="#f0a068" stroke="#9a5520" stroke-width="0.35"/><path d="M571.90 79.16 H574.90" stroke="#9a5520" stroke-width="1.1"/><path d="M577.75 77.02 L580.25 81.52 L575.25 81.52 Z" fill="#f0a068" stroke="#9a5520" stroke-width="0.35"/><path d="M576.25 78.12 H579.25" stroke="#9a5520" stroke-width="1.1"/><path d="M582.10 76.18 L584.60 80.68 L579.60 80.68 Z" fill="#f0a068" stroke="#9a5520" stroke-width="0.35"/><path d="M580.60 77.28 H583.60" stroke="#9a5520" stroke-width="1.1"/><path d="M586.45 76.25 L588.95 80.75 L583.95 80.75 Z" fill="#f0a068" stroke="#9a5520" stroke-width="0.35"/><path d="M584.95 77.35 H587.95" stroke="#9a5520" stroke-width="1.1"/><path d="M590.80 76.06 L593.30 80.56 L588.30 80.56 Z" fill="#f0a068" stroke="#9a5520" stroke-width="0.35"/><path d="M589.30 77.16 H592.30" stroke="#9a5520" stroke-width="1.1"/><path d="M595.15 75.73 L597.65 80.23 L592.65 80.23 Z" fill="#f0a068" stroke="#9a5520" stroke-width="0.35"/><path d="M593.65 76.83 H596.65" stroke="#9a5520" stroke-width="1.1"/><path d="M599.50 75.54 L602.00 80.04 L597.00 80.04 Z" fill="#f0a068" stroke="#9a5520" stroke-width="0.35"/><path d="M598.00 76.64 H601.00" stroke="#9a5520" stroke-width="1.1"/><path d="M603.85 75.18 L606.35 79.68 L601.35 79.68 Z" fill="#f0a068" stroke="#9a5520" stroke-width="0.35"/><path d="M602.35 76.28 H605.35" stroke="#9a5520" stroke-width="1.1"/><path d="M608.20 74.62 L610.70 79.12 L605.70 79.12 Z" fill="#f0a068" stroke="#9a5520" stroke-width="0.35"/><path d="M606.70 75.72 H609.70" stroke="#9a5520" stroke-width="1.1"/><path d="M612.55 74.77 L615.05 79.27 L610.05 79.27 Z" fill="#f0a068" stroke="#9a5520" stroke-width="0.35"/><path d="M611.05 75.87 H614.05" stroke="#9a5520" stroke-width="1.1"/><path d="M616.90 74.21 L619.40 78.71 L614.40 78.71 Z" fill="#f0a068" stroke="#9a5520" stroke-width="0.35"/><path d="M615.40 75.31 H618.40" stroke="#9a5520" stroke-width="1.1"/><path d="M621.25 74.16 L623.75 78.66 L618.75 78.66 Z" fill="#f0a068" stroke="#9a5520" stroke-width="0.35"/><path d="M619.75 75.26 H622.75" stroke="#9a5520" stroke-width="1.1"/><path d="M625.60 74.45 L628.10 78.95 L623.10 78.95 Z" fill="#f0a068" stroke="#9a5520" stroke-width="0.35"/><path d="M624.10 75.55 H627.10" stroke="#9a5520" stroke-width="1.1"/><path d="M629.95 73.78 L632.45 78.28 L627.45 78.28 Z" fill="#f0a068" stroke="#9a5520" stroke-width="0.35"/><path d="M628.45 74.88 H631.45" stroke="#9a5520" stroke-width="1.1"/><path d="M634.30 73.64 L636.80 78.14 L631.80 78.14 Z" fill="#f0a068" stroke="#9a5520" stroke-width="0.35"/><path d="M632.80 74.74 H635.80" stroke="#9a5520" stroke-width="1.1"/><path d="M638.65 73.47 L641.15 77.97 L636.15 77.97 Z" fill="#f0a068" stroke="#9a5520" stroke-width="0.35"/><path d="M637.15 74.57 H640.15" stroke="#9a5520" stroke-width="1.1"/><path d="M643.00 73.85 L645.50 78.35 L640.50 78.35 Z" fill="#f0a068" stroke="#9a5520" stroke-width="0.35"/><path d="M641.50 74.95 H644.50" stroke="#9a5520" stroke-width="1.1"/><path d="M647.35 73.18 L649.85 77.68 L644.85 77.68 Z" fill="#f0a068" stroke="#9a5520" stroke-width="0.35"/><path d="M645.85 74.28 H648.85" stroke="#9a5520" stroke-width="1.1"/><path d="M651.70 72.90 L654.20 77.40 L649.20 77.40 Z" fill="#f0a068" stroke="#9a5520" stroke-width="0.35"/><path d="M650.20 74.00 H653.20" stroke="#9a5520" stroke-width="1.1"/><path d="M656.05 73.30 L658.55 77.80 L653.55 77.80 Z" fill="#f0a068" stroke="#9a5520" stroke-width="0.35"/><path d="M654.55 74.40 H657.55" stroke="#9a5520" stroke-width="1.1"/><path d="M660.40 72.63 L662.90 77.13 L657.90 77.13 Z" fill="#f0a068" stroke="#9a5520" stroke-width="0.35"/><path d="M658.90 73.73 H661.90" stroke="#9a5520" stroke-width="1.1"/><path d="M664.75 72.97 L667.25 77.47 L662.25 77.47 Z" fill="#f0a068" stroke="#9a5520" stroke-width="0.35"/><path d="M663.25 74.07 H666.25" stroke="#9a5520" stroke-width="1.1"/><path d="M421.30 119.07 L424.20 124.29 L418.40 124.29 Z" fill="#f0a068" stroke="#9a5520" stroke-width="0.4"/><circle cx="403.80" cy="128.32" r="2.15" fill="#10d010" stroke="#0a7a0a" stroke-width="0.6"/><circle cx="408.15" cy="132.14" r="2.15" fill="#10d010" stroke="#0a7a0a" stroke-width="0.6"/><circle cx="412.50" cy="140.80" r="2.15" fill="#10d010" stroke="#0a7a0a" stroke-width="0.6"/><circle cx="416.85" cy="141.79" r="2.15" fill="#10d010" stroke="#0a7a0a" stroke-width="0.6"/><circle cx="421.20" cy="140.51" r="2.15" fill="#10d010" stroke="#0a7a0a" stroke-width="0.6"/><circle cx="425.55" cy="140.09" r="2.15" fill="#10d010" stroke="#0a7a0a" stroke-width="0.6"/><circle cx="429.90" cy="141.43" r="2.15" fill="#10d010" stroke="#0a7a0a" stroke-width="0.6"/><circle cx="434.25" cy="139.58" r="2.15" fill="#10d010" stroke="#0a7a0a" stroke-width="0.6"/><circle cx="438.60" cy="138.21" r="2.15" fill="#10d010" stroke="#0a7a0a" stroke-width="0.6"/><circle cx="442.95" cy="137.18" r="2.15" fill="#10d010" stroke="#0a7a0a" stroke-width="0.6"/><circle cx="447.30" cy="136.95" r="2.15" fill="#10d010" stroke="#0a7a0a" stroke-width="0.6"/><circle cx="451.65" cy="133.85" r="2.15" fill="#10d010" stroke="#0a7a0a" stroke-width="0.6"/><circle cx="456.00" cy="130.67" r="2.15" fill="#10d010" stroke="#0a7a0a" stroke-width="0.6"/><circle cx="460.35" cy="130.22" r="2.15" fill="#10d010" stroke="#0a7a0a" stroke-width="0.6"/><circle cx="464.70" cy="128.79" r="2.15" fill="#10d010" stroke="#0a7a0a" stroke-width="0.6"/><circle cx="469.05" cy="126.40" r="2.15" fill="#10d010" stroke="#0a7a0a" stroke-width="0.6"/><circle cx="473.40" cy="124.01" r="2.15" fill="#10d010" stroke="#0a7a0a" stroke-width="0.6"/><circle cx="477.75" cy="122.81" r="2.15" fill="#10d010" stroke="#0a7a0a" stroke-width="0.6"/><circle cx="482.10" cy="121.93" r="2.15" fill="#10d010" stroke="#0a7a0a" stroke-width="0.6"/><circle cx="486.45" cy="120.58" r="2.15" fill="#10d010" stroke="#0a7a0a" stroke-width="0.6"/><circle cx="490.80" cy="119.57" r="2.15" fill="#10d010" stroke="#0a7a0a" stroke-width="0.6"/><circle cx="495.15" cy="117.35" r="2.15" fill="#10d010" stroke="#0a7a0a" stroke-width="0.6"/><circle cx="499.50" cy="115.06" r="2.15" fill="#10d010" stroke="#0a7a0a" stroke-width="0.6"/><circle cx="503.85" cy="113.99" r="2.15" fill="#10d010" stroke="#0a7a0a" stroke-width="0.6"/><circle cx="508.20" cy="111.75" r="2.15" fill="#10d010" stroke="#0a7a0a" stroke-width="0.6"/><circle cx="512.55" cy="108.20" r="2.15" fill="#10d010" stroke="#0a7a0a" stroke-width="0.6"/><circle cx="516.90" cy="106.94" r="2.15" fill="#10d010" stroke="#0a7a0a" stroke-width="0.6"/><circle cx="521.25" cy="104.93" r="2.15" fill="#10d010" stroke="#0a7a0a" stroke-width="0.6"/><circle cx="525.60" cy="103.37" r="2.15" fill="#10d010" stroke="#0a7a0a" stroke-width="0.6"/><circle cx="529.95" cy="101.31" r="2.15" fill="#10d010" stroke="#0a7a0a" stroke-width="0.6"/><circle cx="534.30" cy="99.64" r="2.15" fill="#10d010" stroke="#0a7a0a" stroke-width="0.6"/><circle cx="538.65" cy="96.87" r="2.15" fill="#10d010" stroke="#0a7a0a" stroke-width="0.6"/><circle cx="543.00" cy="95.73" r="2.15" fill="#10d010" stroke="#0a7a0a" stroke-width="0.6"/><circle cx="547.35" cy="94.32" r="2.15" fill="#10d010" stroke="#0a7a0a" stroke-width="0.6"/><circle cx="551.70" cy="93.28" r="2.15" fill="#10d010" stroke="#0a7a0a" stroke-width="0.6"/><circle cx="556.05" cy="92.54" r="2.15" fill="#10d010" stroke="#0a7a0a" stroke-width="0.6"/><circle cx="560.40" cy="91.81" r="2.15" fill="#10d010" stroke="#0a7a0a" stroke-width="0.6"/><circle cx="564.75" cy="91.09" r="2.15" fill="#10d010" stroke="#0a7a0a" stroke-width="0.6"/><circle cx="569.10" cy="90.32" r="2.15" fill="#10d010" stroke="#0a7a0a" stroke-width="0.6"/><circle cx="573.45" cy="88.68" r="2.15" fill="#10d010" stroke="#0a7a0a" stroke-width="0.6"/><circle cx="577.80" cy="87.47" r="2.15" fill="#10d010" stroke="#0a7a0a" stroke-width="0.6"/><circle cx="582.15" cy="86.60" r="2.15" fill="#10d010" stroke="#0a7a0a" stroke-width="0.6"/><circle cx="586.50" cy="85.58" r="2.15" fill="#10d010" stroke="#0a7a0a" stroke-width="0.6"/><circle cx="590.85" cy="84.60" r="2.15" fill="#10d010" stroke="#0a7a0a" stroke-width="0.6"/><circle cx="595.20" cy="83.94" r="2.15" fill="#10d010" stroke="#0a7a0a" stroke-width="0.6"/><circle cx="599.55" cy="83.99" r="2.15" fill="#10d010" stroke="#0a7a0a" stroke-width="0.6"/><circle cx="603.90" cy="83.48" r="2.15" fill="#10d010" stroke="#0a7a0a" stroke-width="0.6"/><circle cx="608.25" cy="83.39" r="2.15" fill="#10d010" stroke="#0a7a0a" stroke-width="0.6"/><circle cx="612.60" cy="83.13" r="2.15" fill="#10d010" stroke="#0a7a0a" stroke-width="0.6"/><circle cx="616.95" cy="83.14" r="2.15" fill="#10d010" stroke="#0a7a0a" stroke-width="0.6"/><circle cx="621.30" cy="82.69" r="2.15" fill="#10d010" stroke="#0a7a0a" stroke-width="0.6"/><circle cx="625.65" cy="82.37" r="2.15" fill="#10d010" stroke="#0a7a0a" stroke-width="0.6"/><circle cx="630.00" cy="82.43" r="2.15" fill="#10d010" stroke="#0a7a0a" stroke-width="0.6"/><circle cx="634.35" cy="82.33" r="2.15" fill="#10d010" stroke="#0a7a0a" stroke-width="0.6"/><circle cx="638.70" cy="81.59" r="2.15" fill="#10d010" stroke="#0a7a0a" stroke-width="0.6"/><circle cx="643.05" cy="81.60" r="2.15" fill="#10d010" stroke="#0a7a0a" stroke-width="0.6"/><circle cx="647.40" cy="81.11" r="2.15" fill="#10d010" stroke="#0a7a0a" stroke-width="0.6"/><circle cx="651.75" cy="81.09" r="2.15" fill="#10d010" stroke="#0a7a0a" stroke-width="0.6"/><circle cx="656.10" cy="80.52" r="2.15" fill="#10d010" stroke="#0a7a0a" stroke-width="0.6"/><circle cx="660.45" cy="79.91" r="2.15" fill="#10d010" stroke="#0a7a0a" stroke-width="0.6"/><circle cx="664.80" cy="79.49" r="2.15" fill="#10d010" stroke="#0a7a0a" stroke-width="0.6"/><circle cx="646.00" cy="83.50" r="2.6" fill="#10d010" stroke="#0a7a0a" stroke-width="0.5"/><rect x="398.55" y="132.12" width="3.9" height="3.9" fill="#56b2f2" stroke="#2a70b0" stroke-width="0.4"/><path d="M398.30 134.07 H402.70" stroke="#2a70b0" stroke-width="0.8"/><rect x="402.90" y="168.62" width="3.9" height="3.9" fill="#56b2f2" stroke="#2a70b0" stroke-width="0.4"/><path d="M402.65 170.57 H407.05" stroke="#2a70b0" stroke-width="0.8"/><rect x="407.25" y="183.52" width="3.9" height="3.9" fill="#56b2f2" stroke="#2a70b0" stroke-width="0.4"/><path d="M407.00 185.47 H411.40" stroke="#2a70b0" stroke-width="0.8"/><rect x="411.60" y="194.42" width="3.9" height="3.9" fill="#56b2f2" stroke="#2a70b0" stroke-width="0.4"/><path d="M411.35 196.37 H415.75" stroke="#2a70b0" stroke-width="0.8"/><rect x="415.95" y="196.51" width="3.9" height="3.9" fill="#56b2f2" stroke="#2a70b0" stroke-width="0.4"/><path d="M415.70 198.46 H420.10" stroke="#2a70b0" stroke-width="0.8"/><rect x="420.30" y="194.40" width="3.9" height="3.9" fill="#56b2f2" stroke="#2a70b0" stroke-width="0.4"/><path d="M420.05 196.35 H424.45" stroke="#2a70b0" stroke-width="0.8"/><rect x="424.65" y="189.96" width="3.9" height="3.9" fill="#56b2f2" stroke="#2a70b0" stroke-width="0.4"/><path d="M424.40 191.91 H428.80" stroke="#2a70b0" stroke-width="0.8"/><rect x="429.00" y="183.51" width="3.9" height="3.9" fill="#56b2f2" stroke="#2a70b0" stroke-width="0.4"/><path d="M428.75 185.46 H433.15" stroke="#2a70b0" stroke-width="0.8"/><rect x="433.35" y="178.39" width="3.9" height="3.9" fill="#56b2f2" stroke="#2a70b0" stroke-width="0.4"/><path d="M433.10 180.34 H437.50" stroke="#2a70b0" stroke-width="0.8"/><rect x="437.70" y="173.81" width="3.9" height="3.9" fill="#56b2f2" stroke="#2a70b0" stroke-width="0.4"/><path d="M437.45 175.76 H441.85" stroke="#2a70b0" stroke-width="0.8"/><rect x="442.05" y="171.70" width="3.9" height="3.9" fill="#56b2f2" stroke="#2a70b0" stroke-width="0.4"/><path d="M441.80 173.65 H446.20" stroke="#2a70b0" stroke-width="0.8"/><rect x="446.40" y="169.82" width="3.9" height="3.9" fill="#56b2f2" stroke="#2a70b0" stroke-width="0.4"/><path d="M446.15 171.77 H450.55" stroke="#2a70b0" stroke-width="0.8"/><rect x="450.75" y="166.34" width="3.9" height="3.9" fill="#56b2f2" stroke="#2a70b0" stroke-width="0.4"/><path d="M450.50 168.29 H454.90" stroke="#2a70b0" stroke-width="0.8"/><rect x="455.10" y="161.04" width="3.9" height="3.9" fill="#56b2f2" stroke="#2a70b0" stroke-width="0.4"/><path d="M454.85 162.99 H459.25" stroke="#2a70b0" stroke-width="0.8"/><rect x="459.45" y="157.79" width="3.9" height="3.9" fill="#56b2f2" stroke="#2a70b0" stroke-width="0.4"/><path d="M459.20 159.74 H463.60" stroke="#2a70b0" stroke-width="0.8"/><rect x="463.80" y="152.81" width="3.9" height="3.9" fill="#56b2f2" stroke="#2a70b0" stroke-width="0.4"/><path d="M463.55 154.76 H467.95" stroke="#2a70b0" stroke-width="0.8"/><rect x="468.15" y="150.80" width="3.9" height="3.9" fill="#56b2f2" stroke="#2a70b0" stroke-width="0.4"/><path d="M467.90 152.75 H472.30" stroke="#2a70b0" stroke-width="0.8"/><rect x="472.50" y="149.81" width="3.9" height="3.9" fill="#56b2f2" stroke="#2a70b0" stroke-width="0.4"/><path d="M472.25 151.76 H476.65" stroke="#2a70b0" stroke-width="0.8"/><rect x="476.85" y="146.26" width="3.9" height="3.9" fill="#56b2f2" stroke="#2a70b0" stroke-width="0.4"/><path d="M476.60 148.21 H481.00" stroke="#2a70b0" stroke-width="0.8"/><rect x="481.20" y="144.29" width="3.9" height="3.9" fill="#56b2f2" stroke="#2a70b0" stroke-width="0.4"/><path d="M480.95 146.24 H485.35" stroke="#2a70b0" stroke-width="0.8"/><rect x="485.55" y="140.86" width="3.9" height="3.9" fill="#56b2f2" stroke="#2a70b0" stroke-width="0.4"/><path d="M485.30 142.81 H489.70" stroke="#2a70b0" stroke-width="0.8"/><rect x="489.90" y="137.72" width="3.9" height="3.9" fill="#56b2f2" stroke="#2a70b0" stroke-width="0.4"/><path d="M489.65 139.67 H494.05" stroke="#2a70b0" stroke-width="0.8"/><rect x="494.25" y="132.55" width="3.9" height="3.9" fill="#56b2f2" stroke="#2a70b0" stroke-width="0.4"/><path d="M494.00 134.50 H498.40" stroke="#2a70b0" stroke-width="0.8"/><rect x="498.60" y="127.71" width="3.9" height="3.9" fill="#56b2f2" stroke="#2a70b0" stroke-width="0.4"/><path d="M498.35 129.66 H502.75" stroke="#2a70b0" stroke-width="0.8"/><rect x="502.95" y="123.99" width="3.9" height="3.9" fill="#56b2f2" stroke="#2a70b0" stroke-width="0.4"/><path d="M502.70 125.94 H507.10" stroke="#2a70b0" stroke-width="0.8"/><rect x="507.30" y="121.60" width="3.9" height="3.9" fill="#56b2f2" stroke="#2a70b0" stroke-width="0.4"/><path d="M507.05 123.55 H511.45" stroke="#2a70b0" stroke-width="0.8"/><rect x="511.65" y="119.83" width="3.9" height="3.9" fill="#56b2f2" stroke="#2a70b0" stroke-width="0.4"/><path d="M511.40 121.78 H515.80" stroke="#2a70b0" stroke-width="0.8"/><rect x="516.00" y="118.18" width="3.9" height="3.9" fill="#56b2f2" stroke="#2a70b0" stroke-width="0.4"/><path d="M515.75 120.13 H520.15" stroke="#2a70b0" stroke-width="0.8"/><rect x="520.35" y="116.15" width="3.9" height="3.9" fill="#56b2f2" stroke="#2a70b0" stroke-width="0.4"/><path d="M520.10 118.10 H524.50" stroke="#2a70b0" stroke-width="0.8"/><rect x="524.70" y="115.31" width="3.9" height="3.9" fill="#56b2f2" stroke="#2a70b0" stroke-width="0.4"/><path d="M524.45 117.26 H528.85" stroke="#2a70b0" stroke-width="0.8"/><rect x="529.05" y="113.68" width="3.9" height="3.9" fill="#56b2f2" stroke="#2a70b0" stroke-width="0.4"/><path d="M528.80 115.63 H533.20" stroke="#2a70b0" stroke-width="0.8"/><rect x="533.40" y="110.86" width="3.9" height="3.9" fill="#56b2f2" stroke="#2a70b0" stroke-width="0.4"/><path d="M533.15 112.81 H537.55" stroke="#2a70b0" stroke-width="0.8"/><rect x="537.75" y="109.39" width="3.9" height="3.9" fill="#56b2f2" stroke="#2a70b0" stroke-width="0.4"/><path d="M537.50 111.34 H541.90" stroke="#2a70b0" stroke-width="0.8"/><rect x="542.10" y="107.33" width="3.9" height="3.9" fill="#56b2f2" stroke="#2a70b0" stroke-width="0.4"/><path d="M541.85 109.28 H546.25" stroke="#2a70b0" stroke-width="0.8"/><rect x="546.45" y="104.69" width="3.9" height="3.9" fill="#56b2f2" stroke="#2a70b0" stroke-width="0.4"/><path d="M546.20 106.64 H550.60" stroke="#2a70b0" stroke-width="0.8"/><rect x="550.80" y="102.83" width="3.9" height="3.9" fill="#56b2f2" stroke="#2a70b0" stroke-width="0.4"/><path d="M550.55 104.78 H554.95" stroke="#2a70b0" stroke-width="0.8"/><rect x="555.15" y="103.21" width="3.9" height="3.9" fill="#56b2f2" stroke="#2a70b0" stroke-width="0.4"/><path d="M554.90 105.16 H559.30" stroke="#2a70b0" stroke-width="0.8"/><rect x="559.50" y="101.66" width="3.9" height="3.9" fill="#56b2f2" stroke="#2a70b0" stroke-width="0.4"/><path d="M559.25 103.61 H563.65" stroke="#2a70b0" stroke-width="0.8"/><rect x="563.85" y="100.07" width="3.9" height="3.9" fill="#56b2f2" stroke="#2a70b0" stroke-width="0.4"/><path d="M563.60 102.02 H568.00" stroke="#2a70b0" stroke-width="0.8"/><rect x="568.20" y="98.70" width="3.9" height="3.9" fill="#56b2f2" stroke="#2a70b0" stroke-width="0.4"/><path d="M567.95 100.65 H572.35" stroke="#2a70b0" stroke-width="0.8"/><rect x="572.55" y="96.67" width="3.9" height="3.9" fill="#56b2f2" stroke="#2a70b0" stroke-width="0.4"/><path d="M572.30 98.62 H576.70" stroke="#2a70b0" stroke-width="0.8"/><rect x="576.90" y="97.22" width="3.9" height="3.9" fill="#56b2f2" stroke="#2a70b0" stroke-width="0.4"/><path d="M576.65 99.17 H581.05" stroke="#2a70b0" stroke-width="0.8"/><rect x="581.25" y="96.57" width="3.9" height="3.9" fill="#56b2f2" stroke="#2a70b0" stroke-width="0.4"/><path d="M581.00 98.52 H585.40" stroke="#2a70b0" stroke-width="0.8"/><rect x="585.60" y="94.63" width="3.9" height="3.9" fill="#56b2f2" stroke="#2a70b0" stroke-width="0.4"/><path d="M585.35 96.58 H589.75" stroke="#2a70b0" stroke-width="0.8"/><rect x="589.95" y="92.55" width="3.9" height="3.9" fill="#56b2f2" stroke="#2a70b0" stroke-width="0.4"/><path d="M589.70 94.50 H594.10" stroke="#2a70b0" stroke-width="0.8"/><rect x="594.30" y="90.88" width="3.9" height="3.9" fill="#56b2f2" stroke="#2a70b0" stroke-width="0.4"/><path d="M594.05 92.83 H598.45" stroke="#2a70b0" stroke-width="0.8"/><rect x="598.65" y="90.22" width="3.9" height="3.9" fill="#56b2f2" stroke="#2a70b0" stroke-width="0.4"/><path d="M598.40 92.17 H602.80" stroke="#2a70b0" stroke-width="0.8"/><rect x="603.00" y="89.43" width="3.9" height="3.9" fill="#56b2f2" stroke="#2a70b0" stroke-width="0.4"/><path d="M602.75 91.38 H607.15" stroke="#2a70b0" stroke-width="0.8"/><rect x="607.35" y="89.98" width="3.9" height="3.9" fill="#56b2f2" stroke="#2a70b0" stroke-width="0.4"/><path d="M607.10 91.93 H611.50" stroke="#2a70b0" stroke-width="0.8"/><rect x="611.70" y="88.98" width="3.9" height="3.9" fill="#56b2f2" stroke="#2a70b0" stroke-width="0.4"/><path d="M611.45 90.93 H615.85" stroke="#2a70b0" stroke-width="0.8"/><rect x="616.05" y="88.54" width="3.9" height="3.9" fill="#56b2f2" stroke="#2a70b0" stroke-width="0.4"/><path d="M615.80 90.49 H620.20" stroke="#2a70b0" stroke-width="0.8"/><rect x="620.40" y="87.79" width="3.9" height="3.9" fill="#56b2f2" stroke="#2a70b0" stroke-width="0.4"/><path d="M620.15 89.74 H624.55" stroke="#2a70b0" stroke-width="0.8"/><rect x="624.75" y="85.97" width="3.9" height="3.9" fill="#56b2f2" stroke="#2a70b0" stroke-width="0.4"/><path d="M624.50 87.92 H628.90" stroke="#2a70b0" stroke-width="0.8"/><rect x="629.10" y="85.87" width="3.9" height="3.9" fill="#56b2f2" stroke="#2a70b0" stroke-width="0.4"/><path d="M628.85 87.82 H633.25" stroke="#2a70b0" stroke-width="0.8"/><rect x="633.45" y="85.47" width="3.9" height="3.9" fill="#56b2f2" stroke="#2a70b0" stroke-width="0.4"/><path d="M633.20 87.42 H637.60" stroke="#2a70b0" stroke-width="0.8"/><rect x="637.80" y="84.39" width="3.9" height="3.9" fill="#56b2f2" stroke="#2a70b0" stroke-width="0.4"/><path d="M637.55 86.34 H641.95" stroke="#2a70b0" stroke-width="0.8"/><rect x="642.15" y="84.74" width="3.9" height="3.9" fill="#56b2f2" stroke="#2a70b0" stroke-width="0.4"/><path d="M641.90 86.69 H646.30" stroke="#2a70b0" stroke-width="0.8"/><rect x="646.50" y="85.77" width="3.9" height="3.9" fill="#56b2f2" stroke="#2a70b0" stroke-width="0.4"/><path d="M646.25 87.72 H650.65" stroke="#2a70b0" stroke-width="0.8"/><rect x="650.85" y="85.81" width="3.9" height="3.9" fill="#56b2f2" stroke="#2a70b0" stroke-width="0.4"/><path d="M650.60 87.76 H655.00" stroke="#2a70b0" stroke-width="0.8"/><rect x="655.20" y="84.40" width="3.9" height="3.9" fill="#56b2f2" stroke="#2a70b0" stroke-width="0.4"/><path d="M654.95 86.35 H659.35" stroke="#2a70b0" stroke-width="0.8"/><rect x="659.55" y="82.77" width="3.9" height="3.9" fill="#56b2f2" stroke="#2a70b0" stroke-width="0.4"/><path d="M659.30 84.72 H663.70" stroke="#2a70b0" stroke-width="0.8"/><rect x="663.90" y="81.20" width="3.9" height="3.9" fill="#56b2f2" stroke="#2a70b0" stroke-width="0.4"/><path d="M663.65 83.15 H668.05" stroke="#2a70b0" stroke-width="0.8"/>
<path d="M370.8 7.6 H669.6 V227.8 H370.8 Z" fill="none" stroke="#5a5a5a" stroke-width="1.4"/>
<path d="M366.3 7.60 H370.8" stroke="#5a5a5a" stroke-width="1"/>
<text x="363.3" y="10.50" font-family="Liberation Sans, sans-serif" stroke="#222" stroke-width="0.3" font-size="9.6" fill="#1a1a1a" text-anchor="end">1</text>
<path d="M368.3 23.33 H370.8" stroke="#5a5a5a" stroke-width="1"/>
<path d="M366.3 39.06 H370.8" stroke="#5a5a5a" stroke-width="1"/>
<text x="363.3" y="41.96" font-family="Liberation Sans, sans-serif" stroke="#222" stroke-width="0.3" font-size="9.6" fill="#1a1a1a" text-anchor="end">0</text>
<path d="M368.3 54.79 H370.8" stroke="#5a5a5a" stroke-width="1"/>
<path d="M366.3 70.51 H370.8" stroke="#5a5a5a" stroke-width="1"/>
<text x="363.3" y="73.41" font-family="Liberation Sans, sans-serif" stroke="#222" stroke-width="0.3" font-size="9.6" fill="#1a1a1a" text-anchor="end">-1</text>
<path d="M368.3 86.24 H370.8" stroke="#5a5a5a" stroke-width="1"/>
<path d="M366.3 101.97 H370.8" stroke="#5a5a5a" stroke-width="1"/>
<text x="363.3" y="104.87" font-family="Liberation Sans, sans-serif" stroke="#222" stroke-width="0.3" font-size="9.6" fill="#1a1a1a" text-anchor="end">-2</text>
<path d="M368.3 117.70 H370.8" stroke="#5a5a5a" stroke-width="1"/>
<path d="M366.3 133.43 H370.8" stroke="#5a5a5a" stroke-width="1"/>
<text x="363.3" y="136.33" font-family="Liberation Sans, sans-serif" stroke="#222" stroke-width="0.3" font-size="9.6" fill="#1a1a1a" text-anchor="end">-3</text>
<path d="M368.3 149.16 H370.8" stroke="#5a5a5a" stroke-width="1"/>
<path d="M366.3 164.89 H370.8" stroke="#5a5a5a" stroke-width="1"/>
<text x="363.3" y="167.79" font-family="Liberation Sans, sans-serif" stroke="#222" stroke-width="0.3" font-size="9.6" fill="#1a1a1a" text-anchor="end">-4</text>
<path d="M368.3 180.61 H370.8" stroke="#5a5a5a" stroke-width="1"/>
<path d="M366.3 196.34 H370.8" stroke="#5a5a5a" stroke-width="1"/>
<text x="363.3" y="199.24" font-family="Liberation Sans, sans-serif" stroke="#222" stroke-width="0.3" font-size="9.6" fill="#1a1a1a" text-anchor="end">-5</text>
<path d="M368.3 212.07 H370.8" stroke="#5a5a5a" stroke-width="1"/>
<path d="M366.3 227.80 H370.8" stroke="#5a5a5a" stroke-width="1"/>
<text x="363.3" y="230.70" font-family="Liberation Sans, sans-serif" stroke="#222" stroke-width="0.3" font-size="9.6" fill="#1a1a1a" text-anchor="end">-6</text>
<path d="M370.80 227.8 V231.8" stroke="#5a5a5a" stroke-width="1"/>
<text x="370.80" y="242.20" font-family="Liberation Sans, sans-serif" stroke="#222" stroke-width="0.3" font-size="9.6" fill="#1a1a1a" text-anchor="middle">0</text>
<path d="M395.70 227.8 V230.3" stroke="#5a5a5a" stroke-width="1"/>
<path d="M420.60 227.8 V231.8" stroke="#5a5a5a" stroke-width="1"/>
<text x="420.60" y="242.20" font-family="Liberation Sans, sans-serif" stroke="#222" stroke-width="0.3" font-size="9.6" fill="#1a1a1a" text-anchor="middle">2000</text>
<path d="M445.50 227.8 V230.3" stroke="#5a5a5a" stroke-width="1"/>
<path d="M470.40 227.8 V231.8" stroke="#5a5a5a" stroke-width="1"/>
<text x="470.40" y="242.20" font-family="Liberation Sans, sans-serif" stroke="#222" stroke-width="0.3" font-size="9.6" fill="#1a1a1a" text-anchor="middle">4000</text>
<path d="M495.30 227.8 V230.3" stroke="#5a5a5a" stroke-width="1"/>
<path d="M520.20 227.8 V231.8" stroke="#5a5a5a" stroke-width="1"/>
<text x="520.20" y="242.20" font-family="Liberation Sans, sans-serif" stroke="#222" stroke-width="0.3" font-size="9.6" fill="#1a1a1a" text-anchor="middle">6000</text>
<path d="M545.10 227.8 V230.3" stroke="#5a5a5a" stroke-width="1"/>
<path d="M570.00 227.8 V231.8" stroke="#5a5a5a" stroke-width="1"/>
<text x="570.00" y="242.20" font-family="Liberation Sans, sans-serif" stroke="#222" stroke-width="0.3" font-size="9.6" fill="#1a1a1a" text-anchor="middle">8000</text>
<path d="M594.90 227.8 V230.3" stroke="#5a5a5a" stroke-width="1"/>
<path d="M619.80 227.8 V231.8" stroke="#5a5a5a" stroke-width="1"/>
<text x="619.80" y="242.20" font-family="Liberation Sans, sans-serif" stroke="#222" stroke-width="0.3" font-size="9.6" fill="#1a1a1a" text-anchor="middle">10000</text>
<path d="M644.70 227.8 V230.3" stroke="#5a5a5a" stroke-width="1"/>
<path d="M669.60 227.8 V231.8" stroke="#5a5a5a" stroke-width="1"/>
<text x="669.60" y="242.20" font-family="Liberation Sans, sans-serif" stroke="#222" stroke-width="0.3" font-size="9.6" fill="#1a1a1a" text-anchor="middle">12000</text>
<text x="520.3" y="260.8" font-family="Liberation Sans, sans-serif" stroke="#222" stroke-width="0.3" font-size="11.8" fill="#1a1a1a" text-anchor="middle">Time (s)</text>
<text transform="translate(348.6,117.8) rotate(-90)" font-family="Liberation Sans, sans-serif" stroke="#222" stroke-width="0.3" font-size="11.8" fill="#1a1a1a" text-anchor="middle">Change in DO concentration (ppm)</text>
<text x="404.5" y="22" font-family="Liberation Sans, sans-serif" stroke="#24244a" stroke-width="0.3" font-size="13.8" fill="#24244a">b)</text>
<path d="M600.5 7.6 V53.6 H669.6" fill="none" stroke="#aaa" stroke-width="0.9"/>
<rect x="612.70" y="14.20" width="4.6" height="4.6" fill="#56b2f2"/>
<circle cx="615.00" cy="30.80" r="2.9" fill="#10d010"/>
<path d="M615.00 41.85 L618.10 47.43 L611.90 47.43 Z" fill="#f0a068"/>
<text x="631.6" y="20.50" font-family="Liberation Sans, sans-serif" stroke="#222" stroke-width="0.3" font-size="11.5" fill="#1a1a1a">7 mm</text>
<text x="631.6" y="34.80" font-family="Liberation Sans, sans-serif" stroke="#222" stroke-width="0.3" font-size="11.5" fill="#1a1a1a">14 mm</text>
<text x="631.6" y="49.10" font-family="Liberation Sans, sans-serif" stroke="#222" stroke-width="0.3" font-size="11.5" fill="#1a1a1a">21 mm</text>
</g>
</g>
</svg>
</body></html>
